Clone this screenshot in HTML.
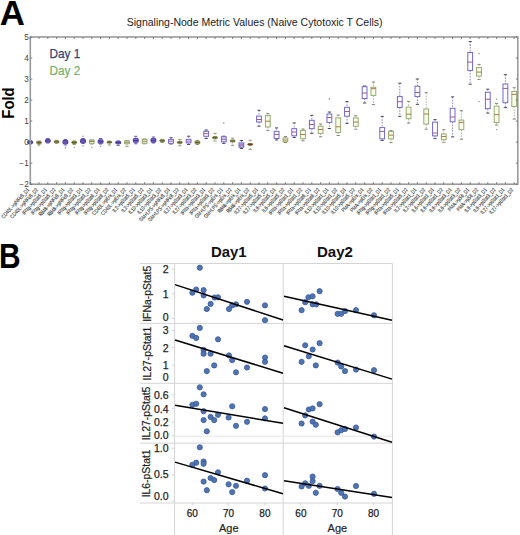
<!DOCTYPE html>
<html><head><meta charset="utf-8"><style>
html,body{margin:0;padding:0;background:#fff;width:520px;height:535px;overflow:hidden;font-family:"Liberation Sans",sans-serif;}
svg{display:block}
</style></head><body>
<svg width="520" height="535" viewBox="0 0 520 535">
<text x="-0.3" y="25" font-family="Liberation Sans" font-weight="bold" font-size="34.8" fill="#000">A</text>
<text x="126.7" y="25.6" font-family="Liberation Sans" font-size="10.6" fill="#222" textLength="255.9" lengthAdjust="spacingAndGlyphs">Signaling-Node Metric Values (Naive Cytotoxic T Cells)</text>
<line x1="30.20" y1="140.50" x2="30.20" y2="141.00" stroke="#8580c0" stroke-width="0.9" stroke-dasharray="1.6,1.2"/>
<line x1="30.20" y1="143.50" x2="30.20" y2="144.00" stroke="#8580c0" stroke-width="0.9" stroke-dasharray="1.6,1.2"/>
<line x1="28.60" y1="140.50" x2="31.80" y2="140.50" stroke="#5a4ca8" stroke-width="0.9"/>
<line x1="28.60" y1="144.00" x2="31.80" y2="144.00" stroke="#5a4ca8" stroke-width="0.9"/>
<rect x="27.80" y="141.00" width="4.80" height="2.50" rx="1" fill="#7c6ecc" stroke="#5444aa" stroke-width="1.1"/>
<line x1="27.80" y1="142.30" x2="32.60" y2="142.30" stroke="#4a3a90" stroke-width="1"/>
<line x1="39.00" y1="141.00" x2="39.00" y2="141.50" stroke="#a8ac96" stroke-width="0.9" stroke-dasharray="1.6,1.2"/>
<line x1="39.00" y1="143.50" x2="39.00" y2="144.50" stroke="#a8ac96" stroke-width="0.9" stroke-dasharray="1.6,1.2"/>
<line x1="37.40" y1="141.00" x2="40.60" y2="141.00" stroke="#8a8c60" stroke-width="0.9"/>
<line x1="37.40" y1="144.50" x2="40.60" y2="144.50" stroke="#8a8c60" stroke-width="0.9"/>
<rect x="36.60" y="141.50" width="4.80" height="2.00" rx="0.8" fill="#b4b47c" stroke="#80824a" stroke-width="1"/>
<line x1="36.60" y1="142.60" x2="41.40" y2="142.60" stroke="#5e5e2a" stroke-width="1.1"/>
<circle cx="39.00" cy="145.70" r="0.8" fill="#a8a898"/>
<line x1="47.80" y1="138.50" x2="47.80" y2="139.50" stroke="#8580c0" stroke-width="0.9" stroke-dasharray="1.6,1.2"/>
<line x1="47.80" y1="142.30" x2="47.80" y2="143.00" stroke="#8580c0" stroke-width="0.9" stroke-dasharray="1.6,1.2"/>
<line x1="46.20" y1="138.50" x2="49.40" y2="138.50" stroke="#5a4ca8" stroke-width="0.9"/>
<line x1="46.20" y1="143.00" x2="49.40" y2="143.00" stroke="#5a4ca8" stroke-width="0.9"/>
<rect x="45.40" y="139.50" width="4.80" height="2.80" rx="1" fill="#7c6ecc" stroke="#5444aa" stroke-width="1.1"/>
<line x1="45.40" y1="141.00" x2="50.20" y2="141.00" stroke="#4a3a90" stroke-width="1"/>
<line x1="56.60" y1="140.30" x2="56.60" y2="140.80" stroke="#a8ac96" stroke-width="0.9" stroke-dasharray="1.6,1.2"/>
<line x1="56.60" y1="142.80" x2="56.60" y2="143.30" stroke="#a8ac96" stroke-width="0.9" stroke-dasharray="1.6,1.2"/>
<line x1="55.00" y1="140.30" x2="58.20" y2="140.30" stroke="#8a8c60" stroke-width="0.9"/>
<line x1="55.00" y1="143.30" x2="58.20" y2="143.30" stroke="#8a8c60" stroke-width="0.9"/>
<rect x="54.20" y="140.80" width="4.80" height="2.00" rx="0.8" fill="#b4b47c" stroke="#80824a" stroke-width="1"/>
<line x1="54.20" y1="141.80" x2="59.00" y2="141.80" stroke="#5e5e2a" stroke-width="1.1"/>
<line x1="65.40" y1="139.50" x2="65.40" y2="140.40" stroke="#8580c0" stroke-width="0.9" stroke-dasharray="1.6,1.2"/>
<line x1="65.40" y1="143.70" x2="65.40" y2="145.00" stroke="#8580c0" stroke-width="0.9" stroke-dasharray="1.6,1.2"/>
<line x1="63.80" y1="139.50" x2="67.00" y2="139.50" stroke="#5a4ca8" stroke-width="0.9"/>
<line x1="63.80" y1="145.00" x2="67.00" y2="145.00" stroke="#5a4ca8" stroke-width="0.9"/>
<rect x="63.00" y="140.40" width="4.80" height="3.30" rx="1" fill="#7c6ecc" stroke="#5444aa" stroke-width="1.1"/>
<line x1="63.00" y1="142.00" x2="67.80" y2="142.00" stroke="#4a3a90" stroke-width="1"/>
<circle cx="65.40" cy="147.60" r="0.8" fill="#9a96b8"/>
<line x1="74.20" y1="141.00" x2="74.20" y2="141.30" stroke="#a8ac96" stroke-width="0.9" stroke-dasharray="1.6,1.2"/>
<line x1="74.20" y1="143.50" x2="74.20" y2="144.50" stroke="#a8ac96" stroke-width="0.9" stroke-dasharray="1.6,1.2"/>
<line x1="72.60" y1="141.00" x2="75.80" y2="141.00" stroke="#8a8c60" stroke-width="0.9"/>
<line x1="72.60" y1="144.50" x2="75.80" y2="144.50" stroke="#8a8c60" stroke-width="0.9"/>
<rect x="71.80" y="141.30" width="4.80" height="2.20" rx="0.8" fill="#b4b47c" stroke="#80824a" stroke-width="1"/>
<line x1="71.80" y1="142.50" x2="76.60" y2="142.50" stroke="#5e5e2a" stroke-width="1.1"/>
<circle cx="74.20" cy="147.60" r="0.8" fill="#a8a898"/>
<line x1="83.00" y1="138.50" x2="83.00" y2="139.40" stroke="#8580c0" stroke-width="0.9" stroke-dasharray="1.6,1.2"/>
<line x1="83.00" y1="142.80" x2="83.00" y2="143.50" stroke="#8580c0" stroke-width="0.9" stroke-dasharray="1.6,1.2"/>
<line x1="81.40" y1="138.50" x2="84.60" y2="138.50" stroke="#5a4ca8" stroke-width="0.9"/>
<line x1="81.40" y1="143.50" x2="84.60" y2="143.50" stroke="#5a4ca8" stroke-width="0.9"/>
<rect x="80.60" y="139.40" width="4.80" height="3.40" rx="1" fill="#7c6ecc" stroke="#5444aa" stroke-width="1.1"/>
<line x1="80.60" y1="141.00" x2="85.40" y2="141.00" stroke="#4a3a90" stroke-width="1"/>
<circle cx="83.00" cy="136.30" r="0.8" fill="#9a96b8"/>
<circle cx="83.00" cy="145.70" r="0.8" fill="#9a96b8"/>
<line x1="91.80" y1="139.80" x2="91.80" y2="140.20" stroke="#a8ac96" stroke-width="0.9" stroke-dasharray="1.6,1.2"/>
<line x1="91.80" y1="143.30" x2="91.80" y2="144.00" stroke="#a8ac96" stroke-width="0.9" stroke-dasharray="1.6,1.2"/>
<line x1="90.20" y1="139.80" x2="93.40" y2="139.80" stroke="#7a7a6a" stroke-width="0.9"/>
<line x1="90.20" y1="144.00" x2="93.40" y2="144.00" stroke="#7a7a6a" stroke-width="0.9"/>
<rect x="89.40" y="140.20" width="4.80" height="3.10" fill="#f9faea" stroke="#8fa86a" stroke-width="0.95"/>
<line x1="89.40" y1="141.50" x2="94.20" y2="141.50" stroke="#a87a50" stroke-width="1"/>
<circle cx="91.80" cy="147.30" r="0.8" fill="#a8a898"/>
<line x1="100.60" y1="138.50" x2="100.60" y2="139.90" stroke="#8580c0" stroke-width="0.9" stroke-dasharray="1.6,1.2"/>
<line x1="100.60" y1="143.30" x2="100.60" y2="144.00" stroke="#8580c0" stroke-width="0.9" stroke-dasharray="1.6,1.2"/>
<line x1="99.00" y1="138.50" x2="102.20" y2="138.50" stroke="#5a4ca8" stroke-width="0.9"/>
<line x1="99.00" y1="144.00" x2="102.20" y2="144.00" stroke="#5a4ca8" stroke-width="0.9"/>
<rect x="98.20" y="139.90" width="4.80" height="3.40" rx="1" fill="#7c6ecc" stroke="#5444aa" stroke-width="1.1"/>
<line x1="98.20" y1="141.60" x2="103.00" y2="141.60" stroke="#4a3a90" stroke-width="1"/>
<circle cx="100.60" cy="146.30" r="0.8" fill="#9a96b8"/>
<line x1="109.40" y1="141.00" x2="109.40" y2="141.50" stroke="#a8ac96" stroke-width="0.9" stroke-dasharray="1.6,1.2"/>
<line x1="109.40" y1="143.00" x2="109.40" y2="145.00" stroke="#a8ac96" stroke-width="0.9" stroke-dasharray="1.6,1.2"/>
<line x1="107.80" y1="141.00" x2="111.00" y2="141.00" stroke="#8a8c60" stroke-width="0.9"/>
<line x1="107.80" y1="145.00" x2="111.00" y2="145.00" stroke="#8a8c60" stroke-width="0.9"/>
<rect x="107.00" y="141.50" width="4.80" height="1.50" rx="0.8" fill="#b4b47c" stroke="#80824a" stroke-width="1"/>
<line x1="107.00" y1="142.30" x2="111.80" y2="142.30" stroke="#5e5e2a" stroke-width="1.1"/>
<line x1="118.20" y1="141.00" x2="118.20" y2="141.30" stroke="#8580c0" stroke-width="0.9" stroke-dasharray="1.6,1.2"/>
<line x1="118.20" y1="143.75" x2="118.20" y2="145.40" stroke="#8580c0" stroke-width="0.9" stroke-dasharray="1.6,1.2"/>
<line x1="116.60" y1="141.00" x2="119.80" y2="141.00" stroke="#5a4ca8" stroke-width="0.9"/>
<line x1="116.60" y1="145.40" x2="119.80" y2="145.40" stroke="#5a4ca8" stroke-width="0.9"/>
<rect x="115.80" y="141.30" width="4.80" height="2.45" rx="1" fill="#7c6ecc" stroke="#5444aa" stroke-width="1.1"/>
<line x1="115.80" y1="142.50" x2="120.60" y2="142.50" stroke="#4a3a90" stroke-width="1"/>
<line x1="127.00" y1="140.50" x2="127.00" y2="140.90" stroke="#a8ac96" stroke-width="0.9" stroke-dasharray="1.6,1.2"/>
<line x1="127.00" y1="143.75" x2="127.00" y2="146.30" stroke="#a8ac96" stroke-width="0.9" stroke-dasharray="1.6,1.2"/>
<line x1="125.40" y1="140.50" x2="128.60" y2="140.50" stroke="#7a7a6a" stroke-width="0.9"/>
<line x1="125.40" y1="146.30" x2="128.60" y2="146.30" stroke="#7a7a6a" stroke-width="0.9"/>
<rect x="124.60" y="140.90" width="4.80" height="2.85" fill="#f9faea" stroke="#8fa86a" stroke-width="0.95"/>
<line x1="124.60" y1="142.30" x2="129.40" y2="142.30" stroke="#a87a50" stroke-width="1"/>
<line x1="135.80" y1="136.30" x2="135.80" y2="138.50" stroke="#8580c0" stroke-width="0.9" stroke-dasharray="1.6,1.2"/>
<line x1="135.80" y1="142.30" x2="135.80" y2="143.75" stroke="#8580c0" stroke-width="0.9" stroke-dasharray="1.6,1.2"/>
<line x1="134.20" y1="136.30" x2="137.40" y2="136.30" stroke="#5a4ca8" stroke-width="0.9"/>
<line x1="134.20" y1="143.75" x2="137.40" y2="143.75" stroke="#5a4ca8" stroke-width="0.9"/>
<rect x="133.40" y="138.50" width="4.80" height="3.80" rx="1" fill="#7c6ecc" stroke="#5444aa" stroke-width="1.1"/>
<line x1="133.40" y1="140.50" x2="138.20" y2="140.50" stroke="#4a3a90" stroke-width="1"/>
<line x1="144.60" y1="139.00" x2="144.60" y2="139.40" stroke="#a8ac96" stroke-width="0.9" stroke-dasharray="1.6,1.2"/>
<line x1="144.60" y1="143.30" x2="144.60" y2="143.80" stroke="#a8ac96" stroke-width="0.9" stroke-dasharray="1.6,1.2"/>
<line x1="143.00" y1="139.00" x2="146.20" y2="139.00" stroke="#7a7a6a" stroke-width="0.9"/>
<line x1="143.00" y1="143.80" x2="146.20" y2="143.80" stroke="#7a7a6a" stroke-width="0.9"/>
<rect x="142.20" y="139.40" width="4.80" height="3.90" fill="#f9faea" stroke="#8fa86a" stroke-width="0.95"/>
<line x1="142.20" y1="141.30" x2="147.00" y2="141.30" stroke="#a87a50" stroke-width="1"/>
<line x1="153.40" y1="137.00" x2="153.40" y2="138.50" stroke="#8580c0" stroke-width="0.9" stroke-dasharray="1.6,1.2"/>
<line x1="153.40" y1="142.10" x2="153.40" y2="143.00" stroke="#8580c0" stroke-width="0.9" stroke-dasharray="1.6,1.2"/>
<line x1="151.80" y1="137.00" x2="155.00" y2="137.00" stroke="#5a4ca8" stroke-width="0.9"/>
<line x1="151.80" y1="143.00" x2="155.00" y2="143.00" stroke="#5a4ca8" stroke-width="0.9"/>
<rect x="151.00" y="138.50" width="4.80" height="3.60" rx="1" fill="#7c6ecc" stroke="#5444aa" stroke-width="1.1"/>
<line x1="151.00" y1="140.30" x2="155.80" y2="140.30" stroke="#4a3a90" stroke-width="1"/>
<line x1="162.20" y1="139.30" x2="162.20" y2="139.80" stroke="#a8ac96" stroke-width="0.9" stroke-dasharray="1.6,1.2"/>
<line x1="162.20" y1="141.60" x2="162.20" y2="142.50" stroke="#a8ac96" stroke-width="0.9" stroke-dasharray="1.6,1.2"/>
<line x1="160.60" y1="139.30" x2="163.80" y2="139.30" stroke="#8a8c60" stroke-width="0.9"/>
<line x1="160.60" y1="142.50" x2="163.80" y2="142.50" stroke="#8a8c60" stroke-width="0.9"/>
<rect x="159.80" y="139.80" width="4.80" height="1.80" rx="0.8" fill="#b4b47c" stroke="#80824a" stroke-width="1"/>
<line x1="159.80" y1="140.70" x2="164.60" y2="140.70" stroke="#5e5e2a" stroke-width="1.1"/>
<line x1="171.00" y1="137.70" x2="171.00" y2="139.40" stroke="#8580c0" stroke-width="0.9" stroke-dasharray="1.6,1.2"/>
<line x1="171.00" y1="143.30" x2="171.00" y2="144.00" stroke="#8580c0" stroke-width="0.9" stroke-dasharray="1.6,1.2"/>
<line x1="169.40" y1="137.70" x2="172.60" y2="137.70" stroke="#3a3a4a" stroke-width="0.9"/>
<line x1="169.40" y1="144.00" x2="172.60" y2="144.00" stroke="#3a3a4a" stroke-width="0.9"/>
<rect x="168.60" y="139.40" width="4.80" height="3.90" fill="#fff" stroke="#6c60cc" stroke-width="0.95"/>
<line x1="168.60" y1="141.20" x2="173.40" y2="141.20" stroke="#9c5a92" stroke-width="1"/>
<line x1="179.80" y1="139.50" x2="179.80" y2="141.50" stroke="#a8ac96" stroke-width="0.9" stroke-dasharray="1.6,1.2"/>
<line x1="179.80" y1="143.40" x2="179.80" y2="145.80" stroke="#a8ac96" stroke-width="0.9" stroke-dasharray="1.6,1.2"/>
<line x1="178.20" y1="139.50" x2="181.40" y2="139.50" stroke="#8a8c60" stroke-width="0.9"/>
<line x1="178.20" y1="145.80" x2="181.40" y2="145.80" stroke="#8a8c60" stroke-width="0.9"/>
<rect x="177.40" y="141.50" width="4.80" height="1.90" rx="0.8" fill="#b4b47c" stroke="#80824a" stroke-width="1"/>
<line x1="177.40" y1="142.40" x2="182.20" y2="142.40" stroke="#5e5e2a" stroke-width="1.1"/>
<line x1="188.60" y1="136.20" x2="188.60" y2="139.30" stroke="#8580c0" stroke-width="0.9" stroke-dasharray="1.6,1.2"/>
<line x1="188.60" y1="142.90" x2="188.60" y2="144.50" stroke="#8580c0" stroke-width="0.9" stroke-dasharray="1.6,1.2"/>
<line x1="187.00" y1="136.20" x2="190.20" y2="136.20" stroke="#3a3a4a" stroke-width="0.9"/>
<line x1="187.00" y1="144.50" x2="190.20" y2="144.50" stroke="#3a3a4a" stroke-width="0.9"/>
<rect x="186.20" y="139.30" width="4.80" height="3.60" fill="#fff" stroke="#6c60cc" stroke-width="0.95"/>
<line x1="186.20" y1="141.10" x2="191.00" y2="141.10" stroke="#9c5a92" stroke-width="1"/>
<line x1="197.40" y1="140.50" x2="197.40" y2="141.00" stroke="#a8ac96" stroke-width="0.9" stroke-dasharray="1.6,1.2"/>
<line x1="197.40" y1="143.80" x2="197.40" y2="144.50" stroke="#a8ac96" stroke-width="0.9" stroke-dasharray="1.6,1.2"/>
<line x1="195.80" y1="140.50" x2="199.00" y2="140.50" stroke="#8a8c60" stroke-width="0.9"/>
<line x1="195.80" y1="144.50" x2="199.00" y2="144.50" stroke="#8a8c60" stroke-width="0.9"/>
<rect x="195.00" y="141.00" width="4.80" height="2.80" rx="0.8" fill="#b4b47c" stroke="#80824a" stroke-width="1"/>
<line x1="195.00" y1="142.50" x2="199.80" y2="142.50" stroke="#5e5e2a" stroke-width="1.1"/>
<line x1="206.20" y1="130.00" x2="206.20" y2="131.30" stroke="#8580c0" stroke-width="0.9" stroke-dasharray="1.6,1.2"/>
<line x1="206.20" y1="136.30" x2="206.20" y2="138.50" stroke="#8580c0" stroke-width="0.9" stroke-dasharray="1.6,1.2"/>
<line x1="204.60" y1="130.00" x2="207.80" y2="130.00" stroke="#3a3a4a" stroke-width="0.9"/>
<line x1="204.60" y1="138.50" x2="207.80" y2="138.50" stroke="#3a3a4a" stroke-width="0.9"/>
<rect x="203.80" y="131.30" width="4.80" height="5.00" fill="#fff" stroke="#6c60cc" stroke-width="0.95"/>
<line x1="203.80" y1="133.70" x2="208.60" y2="133.70" stroke="#9c5a92" stroke-width="1"/>
<line x1="215.00" y1="133.30" x2="215.00" y2="136.60" stroke="#a8ac96" stroke-width="0.9" stroke-dasharray="1.6,1.2"/>
<line x1="215.00" y1="138.60" x2="215.00" y2="141.00" stroke="#a8ac96" stroke-width="0.9" stroke-dasharray="1.6,1.2"/>
<line x1="213.40" y1="133.30" x2="216.60" y2="133.30" stroke="#8a8c60" stroke-width="0.9"/>
<line x1="213.40" y1="141.00" x2="216.60" y2="141.00" stroke="#8a8c60" stroke-width="0.9"/>
<rect x="212.60" y="136.60" width="4.80" height="2.00" rx="0.8" fill="#b4b47c" stroke="#80824a" stroke-width="1"/>
<line x1="212.60" y1="137.60" x2="217.40" y2="137.60" stroke="#5e5e2a" stroke-width="1.1"/>
<line x1="223.80" y1="136.20" x2="223.80" y2="136.70" stroke="#8580c0" stroke-width="0.9" stroke-dasharray="1.6,1.2"/>
<line x1="223.80" y1="141.90" x2="223.80" y2="143.40" stroke="#8580c0" stroke-width="0.9" stroke-dasharray="1.6,1.2"/>
<line x1="222.20" y1="136.20" x2="225.40" y2="136.20" stroke="#3a3a4a" stroke-width="0.9"/>
<line x1="222.20" y1="143.40" x2="225.40" y2="143.40" stroke="#3a3a4a" stroke-width="0.9"/>
<rect x="221.40" y="136.70" width="4.80" height="5.20" fill="#e6e0fa" stroke="#6c60cc" stroke-width="0.95"/>
<line x1="221.40" y1="139.20" x2="226.20" y2="139.20" stroke="#9c5a92" stroke-width="1"/>
<circle cx="223.80" cy="122.90" r="0.8" fill="#9a96b8"/>
<line x1="232.60" y1="138.10" x2="232.60" y2="140.00" stroke="#a8ac96" stroke-width="0.9" stroke-dasharray="1.6,1.2"/>
<line x1="232.60" y1="141.90" x2="232.60" y2="145.30" stroke="#a8ac96" stroke-width="0.9" stroke-dasharray="1.6,1.2"/>
<line x1="231.00" y1="138.10" x2="234.20" y2="138.10" stroke="#8a8c60" stroke-width="0.9"/>
<line x1="231.00" y1="145.30" x2="234.20" y2="145.30" stroke="#8a8c60" stroke-width="0.9"/>
<rect x="230.20" y="140.00" width="4.80" height="1.90" rx="0.8" fill="#b4b47c" stroke="#80824a" stroke-width="1"/>
<line x1="230.20" y1="141.00" x2="235.00" y2="141.00" stroke="#5e5e2a" stroke-width="1.1"/>
<line x1="241.40" y1="140.50" x2="241.40" y2="142.90" stroke="#8580c0" stroke-width="0.9" stroke-dasharray="1.6,1.2"/>
<line x1="241.40" y1="147.20" x2="241.40" y2="148.50" stroke="#8580c0" stroke-width="0.9" stroke-dasharray="1.6,1.2"/>
<line x1="239.80" y1="140.50" x2="243.00" y2="140.50" stroke="#3a3a4a" stroke-width="0.9"/>
<line x1="239.80" y1="148.50" x2="243.00" y2="148.50" stroke="#3a3a4a" stroke-width="0.9"/>
<rect x="239.00" y="142.90" width="4.80" height="4.30" fill="#c0b4ec" stroke="#6c60cc" stroke-width="0.95"/>
<line x1="239.00" y1="145.00" x2="243.80" y2="145.00" stroke="#9c5a92" stroke-width="1"/>
<line x1="250.20" y1="140.20" x2="250.20" y2="143.70" stroke="#a8ac96" stroke-width="0.9" stroke-dasharray="1.6,1.2"/>
<line x1="250.20" y1="145.00" x2="250.20" y2="149.40" stroke="#a8ac96" stroke-width="0.9" stroke-dasharray="1.6,1.2"/>
<line x1="248.60" y1="140.20" x2="251.80" y2="140.20" stroke="#8a8c60" stroke-width="0.9"/>
<line x1="248.60" y1="149.40" x2="251.80" y2="149.40" stroke="#8a8c60" stroke-width="0.9"/>
<rect x="247.80" y="143.70" width="4.80" height="1.50" rx="0.8" fill="#b4b47c" stroke="#80824a" stroke-width="1"/>
<line x1="247.80" y1="144.30" x2="252.60" y2="144.30" stroke="#7a3a20" stroke-width="1.6"/>
<line x1="259.00" y1="110.30" x2="259.00" y2="116.10" stroke="#8580c0" stroke-width="0.9" stroke-dasharray="1.6,1.2"/>
<line x1="259.00" y1="122.00" x2="259.00" y2="126.20" stroke="#8580c0" stroke-width="0.9" stroke-dasharray="1.6,1.2"/>
<line x1="257.40" y1="110.30" x2="260.60" y2="110.30" stroke="#3a3a4a" stroke-width="0.9"/>
<line x1="257.40" y1="126.20" x2="260.60" y2="126.20" stroke="#3a3a4a" stroke-width="0.9"/>
<rect x="256.60" y="116.10" width="4.80" height="5.90" fill="#fff" stroke="#6c60cc" stroke-width="0.95"/>
<line x1="256.60" y1="119.50" x2="261.40" y2="119.50" stroke="#9c5a92" stroke-width="1"/>
<line x1="267.80" y1="113.50" x2="267.80" y2="115.60" stroke="#a8ac96" stroke-width="0.9" stroke-dasharray="1.6,1.2"/>
<line x1="267.80" y1="127.00" x2="267.80" y2="130.40" stroke="#a8ac96" stroke-width="0.9" stroke-dasharray="1.6,1.2"/>
<line x1="266.20" y1="113.50" x2="269.40" y2="113.50" stroke="#7a7a6a" stroke-width="0.9"/>
<line x1="266.20" y1="130.40" x2="269.40" y2="130.40" stroke="#7a7a6a" stroke-width="0.9"/>
<rect x="265.40" y="115.60" width="4.80" height="11.40" fill="#f9faea" stroke="#8fa86a" stroke-width="0.95"/>
<line x1="265.40" y1="121.20" x2="270.20" y2="121.20" stroke="#a87a50" stroke-width="1"/>
<line x1="276.60" y1="127.90" x2="276.60" y2="131.30" stroke="#8580c0" stroke-width="0.9" stroke-dasharray="1.6,1.2"/>
<line x1="276.60" y1="138.50" x2="276.60" y2="140.00" stroke="#8580c0" stroke-width="0.9" stroke-dasharray="1.6,1.2"/>
<line x1="275.00" y1="127.90" x2="278.20" y2="127.90" stroke="#3a3a4a" stroke-width="0.9"/>
<line x1="275.00" y1="140.00" x2="278.20" y2="140.00" stroke="#3a3a4a" stroke-width="0.9"/>
<rect x="274.20" y="131.30" width="4.80" height="7.20" fill="#fff" stroke="#6c60cc" stroke-width="0.95"/>
<line x1="274.20" y1="134.50" x2="279.00" y2="134.50" stroke="#9c5a92" stroke-width="1"/>
<line x1="285.40" y1="136.50" x2="285.40" y2="138.00" stroke="#a8ac96" stroke-width="0.9" stroke-dasharray="1.6,1.2"/>
<line x1="285.40" y1="141.80" x2="285.40" y2="142.50" stroke="#a8ac96" stroke-width="0.9" stroke-dasharray="1.6,1.2"/>
<line x1="283.80" y1="136.50" x2="287.00" y2="136.50" stroke="#7a7a6a" stroke-width="0.9"/>
<line x1="283.80" y1="142.50" x2="287.00" y2="142.50" stroke="#7a7a6a" stroke-width="0.9"/>
<rect x="283.00" y="138.00" width="4.80" height="3.80" fill="#f9faea" stroke="#8fa86a" stroke-width="0.95"/>
<line x1="283.00" y1="140.00" x2="287.80" y2="140.00" stroke="#a87a50" stroke-width="1"/>
<line x1="294.20" y1="122.90" x2="294.20" y2="128.70" stroke="#8580c0" stroke-width="0.9" stroke-dasharray="1.6,1.2"/>
<line x1="294.20" y1="135.80" x2="294.20" y2="137.50" stroke="#8580c0" stroke-width="0.9" stroke-dasharray="1.6,1.2"/>
<line x1="292.60" y1="122.90" x2="295.80" y2="122.90" stroke="#3a3a4a" stroke-width="0.9"/>
<line x1="292.60" y1="137.50" x2="295.80" y2="137.50" stroke="#3a3a4a" stroke-width="0.9"/>
<rect x="291.80" y="128.70" width="4.80" height="7.10" fill="#fff" stroke="#6c60cc" stroke-width="0.95"/>
<line x1="291.80" y1="132.00" x2="296.60" y2="132.00" stroke="#9c5a92" stroke-width="1"/>
<line x1="303.00" y1="129.00" x2="303.00" y2="130.40" stroke="#a8ac96" stroke-width="0.9" stroke-dasharray="1.6,1.2"/>
<line x1="303.00" y1="138.80" x2="303.00" y2="140.80" stroke="#a8ac96" stroke-width="0.9" stroke-dasharray="1.6,1.2"/>
<line x1="301.40" y1="129.00" x2="304.60" y2="129.00" stroke="#7a7a6a" stroke-width="0.9"/>
<line x1="301.40" y1="140.80" x2="304.60" y2="140.80" stroke="#7a7a6a" stroke-width="0.9"/>
<rect x="300.60" y="130.40" width="4.80" height="8.40" fill="#f9faea" stroke="#8fa86a" stroke-width="0.95"/>
<line x1="300.60" y1="134.50" x2="305.40" y2="134.50" stroke="#a87a50" stroke-width="1"/>
<line x1="311.80" y1="115.30" x2="311.80" y2="120.30" stroke="#8580c0" stroke-width="0.9" stroke-dasharray="1.6,1.2"/>
<line x1="311.80" y1="128.70" x2="311.80" y2="133.40" stroke="#8580c0" stroke-width="0.9" stroke-dasharray="1.6,1.2"/>
<line x1="310.20" y1="115.30" x2="313.40" y2="115.30" stroke="#3a3a4a" stroke-width="0.9"/>
<line x1="310.20" y1="133.40" x2="313.40" y2="133.40" stroke="#3a3a4a" stroke-width="0.9"/>
<rect x="309.40" y="120.30" width="4.80" height="8.40" fill="#fff" stroke="#6c60cc" stroke-width="0.95"/>
<line x1="309.40" y1="124.50" x2="314.20" y2="124.50" stroke="#9c5a92" stroke-width="1"/>
<line x1="320.60" y1="124.00" x2="320.60" y2="126.20" stroke="#a8ac96" stroke-width="0.9" stroke-dasharray="1.6,1.2"/>
<line x1="320.60" y1="133.40" x2="320.60" y2="136.80" stroke="#a8ac96" stroke-width="0.9" stroke-dasharray="1.6,1.2"/>
<line x1="319.00" y1="124.00" x2="322.20" y2="124.00" stroke="#7a7a6a" stroke-width="0.9"/>
<line x1="319.00" y1="136.80" x2="322.20" y2="136.80" stroke="#7a7a6a" stroke-width="0.9"/>
<rect x="318.20" y="126.20" width="4.80" height="7.20" fill="#f9faea" stroke="#8fa86a" stroke-width="0.95"/>
<line x1="318.20" y1="129.50" x2="323.00" y2="129.50" stroke="#a87a50" stroke-width="1"/>
<line x1="329.40" y1="112.00" x2="329.40" y2="114.00" stroke="#8580c0" stroke-width="0.9" stroke-dasharray="1.6,1.2"/>
<line x1="329.40" y1="122.40" x2="329.40" y2="128.50" stroke="#8580c0" stroke-width="0.9" stroke-dasharray="1.6,1.2"/>
<line x1="327.80" y1="112.00" x2="331.00" y2="112.00" stroke="#3a3a4a" stroke-width="0.9"/>
<line x1="327.80" y1="128.50" x2="331.00" y2="128.50" stroke="#3a3a4a" stroke-width="0.9"/>
<rect x="327.00" y="114.00" width="4.80" height="8.40" fill="#fff" stroke="#6c60cc" stroke-width="0.95"/>
<line x1="327.00" y1="117.50" x2="331.80" y2="117.50" stroke="#9c5a92" stroke-width="1"/>
<circle cx="329.40" cy="98.90" r="0.8" fill="#9a96b8"/>
<line x1="338.20" y1="115.00" x2="338.20" y2="117.90" stroke="#a8ac96" stroke-width="0.9" stroke-dasharray="1.6,1.2"/>
<line x1="338.20" y1="132.50" x2="338.20" y2="135.50" stroke="#a8ac96" stroke-width="0.9" stroke-dasharray="1.6,1.2"/>
<line x1="336.60" y1="115.00" x2="339.80" y2="115.00" stroke="#7a7a6a" stroke-width="0.9"/>
<line x1="336.60" y1="135.50" x2="339.80" y2="135.50" stroke="#7a7a6a" stroke-width="0.9"/>
<rect x="335.80" y="117.90" width="4.80" height="14.60" fill="#f9faea" stroke="#8fa86a" stroke-width="0.95"/>
<line x1="335.80" y1="126.80" x2="340.60" y2="126.80" stroke="#a87a50" stroke-width="1"/>
<line x1="347.00" y1="101.60" x2="347.00" y2="107.30" stroke="#8580c0" stroke-width="0.9" stroke-dasharray="1.6,1.2"/>
<line x1="347.00" y1="116.20" x2="347.00" y2="123.40" stroke="#8580c0" stroke-width="0.9" stroke-dasharray="1.6,1.2"/>
<line x1="345.40" y1="101.60" x2="348.60" y2="101.60" stroke="#3a3a4a" stroke-width="0.9"/>
<line x1="345.40" y1="123.40" x2="348.60" y2="123.40" stroke="#3a3a4a" stroke-width="0.9"/>
<rect x="344.60" y="107.30" width="4.80" height="8.90" fill="#fff" stroke="#6c60cc" stroke-width="0.95"/>
<line x1="344.60" y1="111.50" x2="349.40" y2="111.50" stroke="#9c5a92" stroke-width="1"/>
<line x1="355.80" y1="115.70" x2="355.80" y2="117.90" stroke="#a8ac96" stroke-width="0.9" stroke-dasharray="1.6,1.2"/>
<line x1="355.80" y1="126.30" x2="355.80" y2="129.20" stroke="#a8ac96" stroke-width="0.9" stroke-dasharray="1.6,1.2"/>
<line x1="354.20" y1="115.70" x2="357.40" y2="115.70" stroke="#7a7a6a" stroke-width="0.9"/>
<line x1="354.20" y1="129.20" x2="357.40" y2="129.20" stroke="#7a7a6a" stroke-width="0.9"/>
<rect x="353.40" y="117.90" width="4.80" height="8.40" fill="#f9faea" stroke="#8fa86a" stroke-width="0.95"/>
<line x1="353.40" y1="122.00" x2="358.20" y2="122.00" stroke="#a87a50" stroke-width="1"/>
<line x1="364.60" y1="86.00" x2="364.60" y2="86.70" stroke="#8580c0" stroke-width="0.9" stroke-dasharray="1.6,1.2"/>
<line x1="364.60" y1="98.50" x2="364.60" y2="103.00" stroke="#8580c0" stroke-width="0.9" stroke-dasharray="1.6,1.2"/>
<line x1="363.00" y1="86.00" x2="366.20" y2="86.00" stroke="#3a3a4a" stroke-width="0.9"/>
<line x1="363.00" y1="103.00" x2="366.20" y2="103.00" stroke="#3a3a4a" stroke-width="0.9"/>
<rect x="362.20" y="86.70" width="4.80" height="11.80" fill="#fff" stroke="#6c60cc" stroke-width="0.95"/>
<line x1="362.20" y1="93.00" x2="367.00" y2="93.00" stroke="#9c5a92" stroke-width="1"/>
<line x1="373.40" y1="82.00" x2="373.40" y2="87.30" stroke="#a8ac96" stroke-width="0.9" stroke-dasharray="1.6,1.2"/>
<line x1="373.40" y1="95.40" x2="373.40" y2="104.60" stroke="#a8ac96" stroke-width="0.9" stroke-dasharray="1.6,1.2"/>
<line x1="371.80" y1="82.00" x2="375.00" y2="82.00" stroke="#7a7a6a" stroke-width="0.9"/>
<line x1="371.80" y1="104.60" x2="375.00" y2="104.60" stroke="#7a7a6a" stroke-width="0.9"/>
<rect x="371.00" y="87.30" width="4.80" height="8.10" fill="#f9faea" stroke="#8fa86a" stroke-width="0.95"/>
<line x1="371.00" y1="88.70" x2="375.80" y2="88.70" stroke="#a87a50" stroke-width="1"/>
<line x1="382.20" y1="116.40" x2="382.20" y2="127.60" stroke="#8580c0" stroke-width="0.9" stroke-dasharray="1.6,1.2"/>
<line x1="382.20" y1="138.90" x2="382.20" y2="140.40" stroke="#8580c0" stroke-width="0.9" stroke-dasharray="1.6,1.2"/>
<line x1="380.60" y1="116.40" x2="383.80" y2="116.40" stroke="#3a3a4a" stroke-width="0.9"/>
<line x1="380.60" y1="140.40" x2="383.80" y2="140.40" stroke="#3a3a4a" stroke-width="0.9"/>
<rect x="379.80" y="127.60" width="4.80" height="11.30" fill="#fff" stroke="#6c60cc" stroke-width="0.95"/>
<line x1="379.80" y1="131.40" x2="384.60" y2="131.40" stroke="#9c5a92" stroke-width="1"/>
<line x1="391.00" y1="130.60" x2="391.00" y2="131.40" stroke="#a8ac96" stroke-width="0.9" stroke-dasharray="1.6,1.2"/>
<line x1="391.00" y1="138.90" x2="391.00" y2="142.60" stroke="#a8ac96" stroke-width="0.9" stroke-dasharray="1.6,1.2"/>
<line x1="389.40" y1="130.60" x2="392.60" y2="130.60" stroke="#7a7a6a" stroke-width="0.9"/>
<line x1="389.40" y1="142.60" x2="392.60" y2="142.60" stroke="#7a7a6a" stroke-width="0.9"/>
<rect x="388.60" y="131.40" width="4.80" height="7.50" fill="#f9faea" stroke="#8fa86a" stroke-width="0.95"/>
<line x1="388.60" y1="135.10" x2="393.40" y2="135.10" stroke="#a87a50" stroke-width="1"/>
<line x1="399.80" y1="83.20" x2="399.80" y2="96.60" stroke="#8580c0" stroke-width="0.9" stroke-dasharray="1.6,1.2"/>
<line x1="399.80" y1="107.40" x2="399.80" y2="116.40" stroke="#8580c0" stroke-width="0.9" stroke-dasharray="1.6,1.2"/>
<line x1="398.20" y1="83.20" x2="401.40" y2="83.20" stroke="#3a3a4a" stroke-width="0.9"/>
<line x1="398.20" y1="116.40" x2="401.40" y2="116.40" stroke="#3a3a4a" stroke-width="0.9"/>
<rect x="397.40" y="96.60" width="4.80" height="10.80" fill="#fff" stroke="#6c60cc" stroke-width="0.95"/>
<line x1="397.40" y1="101.70" x2="402.20" y2="101.70" stroke="#9c5a92" stroke-width="1"/>
<line x1="408.60" y1="101.40" x2="408.60" y2="107.10" stroke="#a8ac96" stroke-width="0.9" stroke-dasharray="1.6,1.2"/>
<line x1="408.60" y1="118.70" x2="408.60" y2="123.10" stroke="#a8ac96" stroke-width="0.9" stroke-dasharray="1.6,1.2"/>
<line x1="407.00" y1="101.40" x2="410.20" y2="101.40" stroke="#7a7a6a" stroke-width="0.9"/>
<line x1="407.00" y1="123.10" x2="410.20" y2="123.10" stroke="#7a7a6a" stroke-width="0.9"/>
<rect x="406.20" y="107.10" width="4.80" height="11.60" fill="#f9faea" stroke="#8fa86a" stroke-width="0.95"/>
<line x1="406.20" y1="114.20" x2="411.00" y2="114.20" stroke="#a87a50" stroke-width="1"/>
<line x1="417.40" y1="79.00" x2="417.40" y2="86.20" stroke="#8580c0" stroke-width="0.9" stroke-dasharray="1.6,1.2"/>
<line x1="417.40" y1="96.60" x2="417.40" y2="104.40" stroke="#8580c0" stroke-width="0.9" stroke-dasharray="1.6,1.2"/>
<line x1="415.80" y1="79.00" x2="419.00" y2="79.00" stroke="#3a3a4a" stroke-width="0.9"/>
<line x1="415.80" y1="104.40" x2="419.00" y2="104.40" stroke="#3a3a4a" stroke-width="0.9"/>
<rect x="415.00" y="86.20" width="4.80" height="10.40" fill="#fff" stroke="#6c60cc" stroke-width="0.95"/>
<line x1="415.00" y1="92.50" x2="419.80" y2="92.50" stroke="#9c5a92" stroke-width="1"/>
<line x1="426.20" y1="92.70" x2="426.20" y2="109.00" stroke="#a8ac96" stroke-width="0.9" stroke-dasharray="1.6,1.2"/>
<line x1="426.20" y1="124.10" x2="426.20" y2="129.20" stroke="#a8ac96" stroke-width="0.9" stroke-dasharray="1.6,1.2"/>
<line x1="424.60" y1="92.70" x2="427.80" y2="92.70" stroke="#7a7a6a" stroke-width="0.9"/>
<line x1="424.60" y1="129.20" x2="427.80" y2="129.20" stroke="#7a7a6a" stroke-width="0.9"/>
<rect x="423.80" y="109.00" width="4.80" height="15.10" fill="#f9faea" stroke="#8fa86a" stroke-width="0.95"/>
<line x1="423.80" y1="114.00" x2="428.60" y2="114.00" stroke="#a87a50" stroke-width="1"/>
<line x1="435.00" y1="119.60" x2="435.00" y2="122.10" stroke="#8580c0" stroke-width="0.9" stroke-dasharray="1.6,1.2"/>
<line x1="435.00" y1="135.90" x2="435.00" y2="138.60" stroke="#8580c0" stroke-width="0.9" stroke-dasharray="1.6,1.2"/>
<line x1="433.40" y1="119.60" x2="436.60" y2="119.60" stroke="#3a3a4a" stroke-width="0.9"/>
<line x1="433.40" y1="138.60" x2="436.60" y2="138.60" stroke="#3a3a4a" stroke-width="0.9"/>
<rect x="432.60" y="122.10" width="4.80" height="13.80" fill="#fff" stroke="#6c60cc" stroke-width="0.95"/>
<line x1="432.60" y1="133.00" x2="437.40" y2="133.00" stroke="#9c5a92" stroke-width="1"/>
<line x1="443.80" y1="129.70" x2="443.80" y2="133.90" stroke="#a8ac96" stroke-width="0.9" stroke-dasharray="1.6,1.2"/>
<line x1="443.80" y1="139.70" x2="443.80" y2="142.30" stroke="#a8ac96" stroke-width="0.9" stroke-dasharray="1.6,1.2"/>
<line x1="442.20" y1="129.70" x2="445.40" y2="129.70" stroke="#7a7a6a" stroke-width="0.9"/>
<line x1="442.20" y1="142.30" x2="445.40" y2="142.30" stroke="#7a7a6a" stroke-width="0.9"/>
<rect x="441.40" y="133.90" width="4.80" height="5.80" fill="#f9faea" stroke="#8fa86a" stroke-width="0.95"/>
<line x1="441.40" y1="136.50" x2="446.20" y2="136.50" stroke="#a87a50" stroke-width="1"/>
<line x1="452.60" y1="96.90" x2="452.60" y2="108.30" stroke="#8580c0" stroke-width="0.9" stroke-dasharray="1.6,1.2"/>
<line x1="452.60" y1="121.80" x2="452.60" y2="136.90" stroke="#8580c0" stroke-width="0.9" stroke-dasharray="1.6,1.2"/>
<line x1="451.00" y1="96.90" x2="454.20" y2="96.90" stroke="#3a3a4a" stroke-width="0.9"/>
<line x1="451.00" y1="136.90" x2="454.20" y2="136.90" stroke="#3a3a4a" stroke-width="0.9"/>
<rect x="450.20" y="108.30" width="4.80" height="13.50" fill="#fff" stroke="#6c60cc" stroke-width="0.95"/>
<line x1="450.20" y1="117.00" x2="455.00" y2="117.00" stroke="#9c5a92" stroke-width="1"/>
<line x1="461.40" y1="110.70" x2="461.40" y2="120.10" stroke="#a8ac96" stroke-width="0.9" stroke-dasharray="1.6,1.2"/>
<line x1="461.40" y1="129.70" x2="461.40" y2="139.20" stroke="#a8ac96" stroke-width="0.9" stroke-dasharray="1.6,1.2"/>
<line x1="459.80" y1="110.70" x2="463.00" y2="110.70" stroke="#7a7a6a" stroke-width="0.9"/>
<line x1="459.80" y1="139.20" x2="463.00" y2="139.20" stroke="#7a7a6a" stroke-width="0.9"/>
<rect x="459.00" y="120.10" width="4.80" height="9.60" fill="#f9faea" stroke="#8fa86a" stroke-width="0.95"/>
<line x1="459.00" y1="122.40" x2="463.80" y2="122.40" stroke="#a87a50" stroke-width="1"/>
<line x1="470.20" y1="41.50" x2="470.20" y2="52.50" stroke="#8580c0" stroke-width="0.9" stroke-dasharray="1.6,1.2"/>
<line x1="470.20" y1="70.40" x2="470.20" y2="84.20" stroke="#8580c0" stroke-width="0.9" stroke-dasharray="1.6,1.2"/>
<line x1="468.60" y1="41.50" x2="471.80" y2="41.50" stroke="#3a3a4a" stroke-width="0.9"/>
<line x1="468.60" y1="84.20" x2="471.80" y2="84.20" stroke="#3a3a4a" stroke-width="0.9"/>
<rect x="467.80" y="52.50" width="4.80" height="17.90" fill="#fff" stroke="#6c60cc" stroke-width="0.95"/>
<line x1="467.80" y1="62.10" x2="472.60" y2="62.10" stroke="#9c5a92" stroke-width="1"/>
<circle cx="470.20" cy="45.00" r="0.8" fill="#9a96b8"/>
<line x1="479.00" y1="64.40" x2="479.00" y2="67.50" stroke="#a8ac96" stroke-width="0.9" stroke-dasharray="1.6,1.2"/>
<line x1="479.00" y1="76.10" x2="479.00" y2="79.40" stroke="#a8ac96" stroke-width="0.9" stroke-dasharray="1.6,1.2"/>
<line x1="477.40" y1="64.40" x2="480.60" y2="64.40" stroke="#7a7a6a" stroke-width="0.9"/>
<line x1="477.40" y1="79.40" x2="480.60" y2="79.40" stroke="#7a7a6a" stroke-width="0.9"/>
<rect x="476.60" y="67.50" width="4.80" height="8.60" fill="#f9faea" stroke="#8fa86a" stroke-width="0.95"/>
<line x1="476.60" y1="72.10" x2="481.40" y2="72.10" stroke="#a87a50" stroke-width="1"/>
<circle cx="479.00" cy="53.60" r="0.8" fill="#a8a898"/>
<circle cx="479.00" cy="101.60" r="0.8" fill="#a8a898"/>
<line x1="487.80" y1="89.20" x2="487.80" y2="92.20" stroke="#8580c0" stroke-width="0.9" stroke-dasharray="1.6,1.2"/>
<line x1="487.80" y1="108.70" x2="487.80" y2="113.10" stroke="#8580c0" stroke-width="0.9" stroke-dasharray="1.6,1.2"/>
<line x1="486.20" y1="89.20" x2="489.40" y2="89.20" stroke="#3a3a4a" stroke-width="0.9"/>
<line x1="486.20" y1="113.10" x2="489.40" y2="113.10" stroke="#3a3a4a" stroke-width="0.9"/>
<rect x="485.40" y="92.20" width="4.80" height="16.50" fill="#fff" stroke="#6c60cc" stroke-width="0.95"/>
<line x1="485.40" y1="99.20" x2="490.20" y2="99.20" stroke="#9c5a92" stroke-width="1"/>
<line x1="496.60" y1="103.40" x2="496.60" y2="106.10" stroke="#a8ac96" stroke-width="0.9" stroke-dasharray="1.6,1.2"/>
<line x1="496.60" y1="122.60" x2="496.60" y2="125.10" stroke="#a8ac96" stroke-width="0.9" stroke-dasharray="1.6,1.2"/>
<line x1="495.00" y1="103.40" x2="498.20" y2="103.40" stroke="#7a7a6a" stroke-width="0.9"/>
<line x1="495.00" y1="125.10" x2="498.20" y2="125.10" stroke="#7a7a6a" stroke-width="0.9"/>
<rect x="494.20" y="106.10" width="4.80" height="16.50" fill="#f9faea" stroke="#8fa86a" stroke-width="0.95"/>
<line x1="494.20" y1="114.60" x2="499.00" y2="114.60" stroke="#a87a50" stroke-width="1"/>
<circle cx="496.60" cy="99.20" r="0.8" fill="#a8a898"/>
<circle cx="496.60" cy="129.60" r="0.8" fill="#a8a898"/>
<line x1="505.40" y1="74.70" x2="505.40" y2="84.00" stroke="#8580c0" stroke-width="0.9" stroke-dasharray="1.6,1.2"/>
<line x1="505.40" y1="102.70" x2="505.40" y2="107.60" stroke="#8580c0" stroke-width="0.9" stroke-dasharray="1.6,1.2"/>
<line x1="503.80" y1="74.70" x2="507.00" y2="74.70" stroke="#3a3a4a" stroke-width="0.9"/>
<line x1="503.80" y1="107.60" x2="507.00" y2="107.60" stroke="#3a3a4a" stroke-width="0.9"/>
<rect x="503.00" y="84.00" width="4.80" height="18.70" fill="#fff" stroke="#6c60cc" stroke-width="0.95"/>
<line x1="503.00" y1="88.40" x2="507.80" y2="88.40" stroke="#9c5a92" stroke-width="1"/>
<line x1="514.20" y1="87.70" x2="514.20" y2="91.40" stroke="#a8ac96" stroke-width="0.9" stroke-dasharray="1.6,1.2"/>
<line x1="514.20" y1="106.40" x2="514.20" y2="119.10" stroke="#a8ac96" stroke-width="0.9" stroke-dasharray="1.6,1.2"/>
<line x1="512.60" y1="87.70" x2="515.80" y2="87.70" stroke="#7a7a6a" stroke-width="0.9"/>
<line x1="512.60" y1="119.10" x2="515.80" y2="119.10" stroke="#7a7a6a" stroke-width="0.9"/>
<rect x="511.80" y="91.40" width="4.80" height="15.00" fill="#f9faea" stroke="#8fa86a" stroke-width="0.95"/>
<line x1="511.80" y1="94.40" x2="516.60" y2="94.40" stroke="#a87a50" stroke-width="1"/>
<rect x="30.3" y="37.0" width="487.49999999999994" height="147.2" fill="none" stroke="#9a9a9a" stroke-width="1.6"/>
<line x1="30.20" y1="37.0" x2="30.20" y2="39.0" stroke="#666" stroke-width="0.8"/>
<line x1="30.20" y1="184.2" x2="30.20" y2="182.2" stroke="#666" stroke-width="0.8"/>
<line x1="39.00" y1="37.0" x2="39.00" y2="39.0" stroke="#666" stroke-width="0.8"/>
<line x1="39.00" y1="184.2" x2="39.00" y2="182.2" stroke="#666" stroke-width="0.8"/>
<line x1="47.80" y1="37.0" x2="47.80" y2="39.0" stroke="#666" stroke-width="0.8"/>
<line x1="47.80" y1="184.2" x2="47.80" y2="182.2" stroke="#666" stroke-width="0.8"/>
<line x1="56.60" y1="37.0" x2="56.60" y2="39.0" stroke="#666" stroke-width="0.8"/>
<line x1="56.60" y1="184.2" x2="56.60" y2="182.2" stroke="#666" stroke-width="0.8"/>
<line x1="65.40" y1="37.0" x2="65.40" y2="39.0" stroke="#666" stroke-width="0.8"/>
<line x1="65.40" y1="184.2" x2="65.40" y2="182.2" stroke="#666" stroke-width="0.8"/>
<line x1="74.20" y1="37.0" x2="74.20" y2="39.0" stroke="#666" stroke-width="0.8"/>
<line x1="74.20" y1="184.2" x2="74.20" y2="182.2" stroke="#666" stroke-width="0.8"/>
<line x1="83.00" y1="37.0" x2="83.00" y2="39.0" stroke="#666" stroke-width="0.8"/>
<line x1="83.00" y1="184.2" x2="83.00" y2="182.2" stroke="#666" stroke-width="0.8"/>
<line x1="91.80" y1="37.0" x2="91.80" y2="39.0" stroke="#666" stroke-width="0.8"/>
<line x1="91.80" y1="184.2" x2="91.80" y2="182.2" stroke="#666" stroke-width="0.8"/>
<line x1="100.60" y1="37.0" x2="100.60" y2="39.0" stroke="#666" stroke-width="0.8"/>
<line x1="100.60" y1="184.2" x2="100.60" y2="182.2" stroke="#666" stroke-width="0.8"/>
<line x1="109.40" y1="37.0" x2="109.40" y2="39.0" stroke="#666" stroke-width="0.8"/>
<line x1="109.40" y1="184.2" x2="109.40" y2="182.2" stroke="#666" stroke-width="0.8"/>
<line x1="118.20" y1="37.0" x2="118.20" y2="39.0" stroke="#666" stroke-width="0.8"/>
<line x1="118.20" y1="184.2" x2="118.20" y2="182.2" stroke="#666" stroke-width="0.8"/>
<line x1="127.00" y1="37.0" x2="127.00" y2="39.0" stroke="#666" stroke-width="0.8"/>
<line x1="127.00" y1="184.2" x2="127.00" y2="182.2" stroke="#666" stroke-width="0.8"/>
<line x1="135.80" y1="37.0" x2="135.80" y2="39.0" stroke="#666" stroke-width="0.8"/>
<line x1="135.80" y1="184.2" x2="135.80" y2="182.2" stroke="#666" stroke-width="0.8"/>
<line x1="144.60" y1="37.0" x2="144.60" y2="39.0" stroke="#666" stroke-width="0.8"/>
<line x1="144.60" y1="184.2" x2="144.60" y2="182.2" stroke="#666" stroke-width="0.8"/>
<line x1="153.40" y1="37.0" x2="153.40" y2="39.0" stroke="#666" stroke-width="0.8"/>
<line x1="153.40" y1="184.2" x2="153.40" y2="182.2" stroke="#666" stroke-width="0.8"/>
<line x1="162.20" y1="37.0" x2="162.20" y2="39.0" stroke="#666" stroke-width="0.8"/>
<line x1="162.20" y1="184.2" x2="162.20" y2="182.2" stroke="#666" stroke-width="0.8"/>
<line x1="171.00" y1="37.0" x2="171.00" y2="39.0" stroke="#666" stroke-width="0.8"/>
<line x1="171.00" y1="184.2" x2="171.00" y2="182.2" stroke="#666" stroke-width="0.8"/>
<line x1="179.80" y1="37.0" x2="179.80" y2="39.0" stroke="#666" stroke-width="0.8"/>
<line x1="179.80" y1="184.2" x2="179.80" y2="182.2" stroke="#666" stroke-width="0.8"/>
<line x1="188.60" y1="37.0" x2="188.60" y2="39.0" stroke="#666" stroke-width="0.8"/>
<line x1="188.60" y1="184.2" x2="188.60" y2="182.2" stroke="#666" stroke-width="0.8"/>
<line x1="197.40" y1="37.0" x2="197.40" y2="39.0" stroke="#666" stroke-width="0.8"/>
<line x1="197.40" y1="184.2" x2="197.40" y2="182.2" stroke="#666" stroke-width="0.8"/>
<line x1="206.20" y1="37.0" x2="206.20" y2="39.0" stroke="#666" stroke-width="0.8"/>
<line x1="206.20" y1="184.2" x2="206.20" y2="182.2" stroke="#666" stroke-width="0.8"/>
<line x1="215.00" y1="37.0" x2="215.00" y2="39.0" stroke="#666" stroke-width="0.8"/>
<line x1="215.00" y1="184.2" x2="215.00" y2="182.2" stroke="#666" stroke-width="0.8"/>
<line x1="223.80" y1="37.0" x2="223.80" y2="39.0" stroke="#666" stroke-width="0.8"/>
<line x1="223.80" y1="184.2" x2="223.80" y2="182.2" stroke="#666" stroke-width="0.8"/>
<line x1="232.60" y1="37.0" x2="232.60" y2="39.0" stroke="#666" stroke-width="0.8"/>
<line x1="232.60" y1="184.2" x2="232.60" y2="182.2" stroke="#666" stroke-width="0.8"/>
<line x1="241.40" y1="37.0" x2="241.40" y2="39.0" stroke="#666" stroke-width="0.8"/>
<line x1="241.40" y1="184.2" x2="241.40" y2="182.2" stroke="#666" stroke-width="0.8"/>
<line x1="250.20" y1="37.0" x2="250.20" y2="39.0" stroke="#666" stroke-width="0.8"/>
<line x1="250.20" y1="184.2" x2="250.20" y2="182.2" stroke="#666" stroke-width="0.8"/>
<line x1="259.00" y1="37.0" x2="259.00" y2="39.0" stroke="#666" stroke-width="0.8"/>
<line x1="259.00" y1="184.2" x2="259.00" y2="182.2" stroke="#666" stroke-width="0.8"/>
<line x1="267.80" y1="37.0" x2="267.80" y2="39.0" stroke="#666" stroke-width="0.8"/>
<line x1="267.80" y1="184.2" x2="267.80" y2="182.2" stroke="#666" stroke-width="0.8"/>
<line x1="276.60" y1="37.0" x2="276.60" y2="39.0" stroke="#666" stroke-width="0.8"/>
<line x1="276.60" y1="184.2" x2="276.60" y2="182.2" stroke="#666" stroke-width="0.8"/>
<line x1="285.40" y1="37.0" x2="285.40" y2="39.0" stroke="#666" stroke-width="0.8"/>
<line x1="285.40" y1="184.2" x2="285.40" y2="182.2" stroke="#666" stroke-width="0.8"/>
<line x1="294.20" y1="37.0" x2="294.20" y2="39.0" stroke="#666" stroke-width="0.8"/>
<line x1="294.20" y1="184.2" x2="294.20" y2="182.2" stroke="#666" stroke-width="0.8"/>
<line x1="303.00" y1="37.0" x2="303.00" y2="39.0" stroke="#666" stroke-width="0.8"/>
<line x1="303.00" y1="184.2" x2="303.00" y2="182.2" stroke="#666" stroke-width="0.8"/>
<line x1="311.80" y1="37.0" x2="311.80" y2="39.0" stroke="#666" stroke-width="0.8"/>
<line x1="311.80" y1="184.2" x2="311.80" y2="182.2" stroke="#666" stroke-width="0.8"/>
<line x1="320.60" y1="37.0" x2="320.60" y2="39.0" stroke="#666" stroke-width="0.8"/>
<line x1="320.60" y1="184.2" x2="320.60" y2="182.2" stroke="#666" stroke-width="0.8"/>
<line x1="329.40" y1="37.0" x2="329.40" y2="39.0" stroke="#666" stroke-width="0.8"/>
<line x1="329.40" y1="184.2" x2="329.40" y2="182.2" stroke="#666" stroke-width="0.8"/>
<line x1="338.20" y1="37.0" x2="338.20" y2="39.0" stroke="#666" stroke-width="0.8"/>
<line x1="338.20" y1="184.2" x2="338.20" y2="182.2" stroke="#666" stroke-width="0.8"/>
<line x1="347.00" y1="37.0" x2="347.00" y2="39.0" stroke="#666" stroke-width="0.8"/>
<line x1="347.00" y1="184.2" x2="347.00" y2="182.2" stroke="#666" stroke-width="0.8"/>
<line x1="355.80" y1="37.0" x2="355.80" y2="39.0" stroke="#666" stroke-width="0.8"/>
<line x1="355.80" y1="184.2" x2="355.80" y2="182.2" stroke="#666" stroke-width="0.8"/>
<line x1="364.60" y1="37.0" x2="364.60" y2="39.0" stroke="#666" stroke-width="0.8"/>
<line x1="364.60" y1="184.2" x2="364.60" y2="182.2" stroke="#666" stroke-width="0.8"/>
<line x1="373.40" y1="37.0" x2="373.40" y2="39.0" stroke="#666" stroke-width="0.8"/>
<line x1="373.40" y1="184.2" x2="373.40" y2="182.2" stroke="#666" stroke-width="0.8"/>
<line x1="382.20" y1="37.0" x2="382.20" y2="39.0" stroke="#666" stroke-width="0.8"/>
<line x1="382.20" y1="184.2" x2="382.20" y2="182.2" stroke="#666" stroke-width="0.8"/>
<line x1="391.00" y1="37.0" x2="391.00" y2="39.0" stroke="#666" stroke-width="0.8"/>
<line x1="391.00" y1="184.2" x2="391.00" y2="182.2" stroke="#666" stroke-width="0.8"/>
<line x1="399.80" y1="37.0" x2="399.80" y2="39.0" stroke="#666" stroke-width="0.8"/>
<line x1="399.80" y1="184.2" x2="399.80" y2="182.2" stroke="#666" stroke-width="0.8"/>
<line x1="408.60" y1="37.0" x2="408.60" y2="39.0" stroke="#666" stroke-width="0.8"/>
<line x1="408.60" y1="184.2" x2="408.60" y2="182.2" stroke="#666" stroke-width="0.8"/>
<line x1="417.40" y1="37.0" x2="417.40" y2="39.0" stroke="#666" stroke-width="0.8"/>
<line x1="417.40" y1="184.2" x2="417.40" y2="182.2" stroke="#666" stroke-width="0.8"/>
<line x1="426.20" y1="37.0" x2="426.20" y2="39.0" stroke="#666" stroke-width="0.8"/>
<line x1="426.20" y1="184.2" x2="426.20" y2="182.2" stroke="#666" stroke-width="0.8"/>
<line x1="435.00" y1="37.0" x2="435.00" y2="39.0" stroke="#666" stroke-width="0.8"/>
<line x1="435.00" y1="184.2" x2="435.00" y2="182.2" stroke="#666" stroke-width="0.8"/>
<line x1="443.80" y1="37.0" x2="443.80" y2="39.0" stroke="#666" stroke-width="0.8"/>
<line x1="443.80" y1="184.2" x2="443.80" y2="182.2" stroke="#666" stroke-width="0.8"/>
<line x1="452.60" y1="37.0" x2="452.60" y2="39.0" stroke="#666" stroke-width="0.8"/>
<line x1="452.60" y1="184.2" x2="452.60" y2="182.2" stroke="#666" stroke-width="0.8"/>
<line x1="461.40" y1="37.0" x2="461.40" y2="39.0" stroke="#666" stroke-width="0.8"/>
<line x1="461.40" y1="184.2" x2="461.40" y2="182.2" stroke="#666" stroke-width="0.8"/>
<line x1="470.20" y1="37.0" x2="470.20" y2="39.0" stroke="#666" stroke-width="0.8"/>
<line x1="470.20" y1="184.2" x2="470.20" y2="182.2" stroke="#666" stroke-width="0.8"/>
<line x1="479.00" y1="37.0" x2="479.00" y2="39.0" stroke="#666" stroke-width="0.8"/>
<line x1="479.00" y1="184.2" x2="479.00" y2="182.2" stroke="#666" stroke-width="0.8"/>
<line x1="487.80" y1="37.0" x2="487.80" y2="39.0" stroke="#666" stroke-width="0.8"/>
<line x1="487.80" y1="184.2" x2="487.80" y2="182.2" stroke="#666" stroke-width="0.8"/>
<line x1="496.60" y1="37.0" x2="496.60" y2="39.0" stroke="#666" stroke-width="0.8"/>
<line x1="496.60" y1="184.2" x2="496.60" y2="182.2" stroke="#666" stroke-width="0.8"/>
<line x1="505.40" y1="37.0" x2="505.40" y2="39.0" stroke="#666" stroke-width="0.8"/>
<line x1="505.40" y1="184.2" x2="505.40" y2="182.2" stroke="#666" stroke-width="0.8"/>
<line x1="514.20" y1="37.0" x2="514.20" y2="39.0" stroke="#666" stroke-width="0.8"/>
<line x1="514.20" y1="184.2" x2="514.20" y2="182.2" stroke="#666" stroke-width="0.8"/>
<line x1="30.3" y1="184.20" x2="32.3" y2="184.20" stroke="#666" stroke-width="0.8"/>
<line x1="517.8" y1="184.20" x2="515.8" y2="184.20" stroke="#666" stroke-width="0.8"/>
<text x="28.70" y="187.00" font-family="Liberation Sans" font-size="8.2" fill="#444" text-anchor="end">−2</text>
<line x1="30.3" y1="163.17" x2="32.3" y2="163.17" stroke="#666" stroke-width="0.8"/>
<line x1="517.8" y1="163.17" x2="515.8" y2="163.17" stroke="#666" stroke-width="0.8"/>
<text x="28.70" y="165.97" font-family="Liberation Sans" font-size="8.2" fill="#444" text-anchor="end">−1</text>
<line x1="30.3" y1="142.14" x2="32.3" y2="142.14" stroke="#666" stroke-width="0.8"/>
<line x1="517.8" y1="142.14" x2="515.8" y2="142.14" stroke="#666" stroke-width="0.8"/>
<text x="28.70" y="144.94" font-family="Liberation Sans" font-size="8.2" fill="#444" text-anchor="end">0</text>
<line x1="30.3" y1="121.11" x2="32.3" y2="121.11" stroke="#666" stroke-width="0.8"/>
<line x1="517.8" y1="121.11" x2="515.8" y2="121.11" stroke="#666" stroke-width="0.8"/>
<text x="28.70" y="123.91" font-family="Liberation Sans" font-size="8.2" fill="#444" text-anchor="end">1</text>
<line x1="30.3" y1="100.09" x2="32.3" y2="100.09" stroke="#666" stroke-width="0.8"/>
<line x1="517.8" y1="100.09" x2="515.8" y2="100.09" stroke="#666" stroke-width="0.8"/>
<text x="28.70" y="102.89" font-family="Liberation Sans" font-size="8.2" fill="#444" text-anchor="end">2</text>
<line x1="30.3" y1="79.06" x2="32.3" y2="79.06" stroke="#666" stroke-width="0.8"/>
<line x1="517.8" y1="79.06" x2="515.8" y2="79.06" stroke="#666" stroke-width="0.8"/>
<text x="28.70" y="81.86" font-family="Liberation Sans" font-size="8.2" fill="#444" text-anchor="end">3</text>
<line x1="30.3" y1="58.03" x2="32.3" y2="58.03" stroke="#666" stroke-width="0.8"/>
<line x1="517.8" y1="58.03" x2="515.8" y2="58.03" stroke="#666" stroke-width="0.8"/>
<text x="28.70" y="60.83" font-family="Liberation Sans" font-size="8.2" fill="#444" text-anchor="end">4</text>
<line x1="30.3" y1="37.00" x2="32.3" y2="37.00" stroke="#666" stroke-width="0.8"/>
<line x1="517.8" y1="37.00" x2="515.8" y2="37.00" stroke="#666" stroke-width="0.8"/>
<text x="28.70" y="39.80" font-family="Liberation Sans" font-size="8.2" fill="#444" text-anchor="end">5</text>
<text transform="translate(14.3,118.7) rotate(-90)" font-family="Liberation Sans" font-weight="bold" font-size="16" fill="#000" textLength="31.4" lengthAdjust="spacingAndGlyphs">Fold</text>
<text x="49.5" y="58.3" font-family="Liberation Sans" font-size="12.4" fill="#35436f" stroke="#35436f" stroke-width="0.25" textLength="30.8" lengthAdjust="spacingAndGlyphs">Day 1</text>
<text x="49.5" y="75.0" font-family="Liberation Sans" font-size="12.4" fill="#74b068" stroke="#74b068" stroke-width="0.2" textLength="30.8" lengthAdjust="spacingAndGlyphs">Day 2</text>
<text transform="translate(29.70,190.00) rotate(-48) scale(0.78,1)" font-family="Liberation Sans" font-size="5.6" fill="#404040" stroke="#404040" stroke-width="0.12" text-anchor="end">CD40L-&gt;pNFkB_D1</text>
<text transform="translate(38.50,190.00) rotate(-48) scale(0.78,1)" font-family="Liberation Sans" font-size="5.6" fill="#404040" stroke="#404040" stroke-width="0.12" text-anchor="end">CD40L-&gt;pNFkB_D2</text>
<text transform="translate(47.30,190.00) rotate(-48) scale(0.78,1)" font-family="Liberation Sans" font-size="5.6" fill="#404040" stroke="#404040" stroke-width="0.12" text-anchor="end">IFNg-&gt;pStat5_D1</text>
<text transform="translate(56.10,190.00) rotate(-48) scale(0.78,1)" font-family="Liberation Sans" font-size="5.6" fill="#404040" stroke="#404040" stroke-width="0.12" text-anchor="end">IFNg-&gt;pStat5_D2</text>
<text transform="translate(64.90,190.00) rotate(-48) scale(0.78,1)" font-family="Liberation Sans" font-size="5.6" fill="#404040" stroke="#404040" stroke-width="0.12" text-anchor="end">R848-&gt;pNFkB_D1</text>
<text transform="translate(73.70,190.00) rotate(-48) scale(0.78,1)" font-family="Liberation Sans" font-size="5.6" fill="#404040" stroke="#404040" stroke-width="0.12" text-anchor="end">R848-&gt;pNFkB_D2</text>
<text transform="translate(82.50,190.00) rotate(-48) scale(0.78,1)" font-family="Liberation Sans" font-size="5.6" fill="#404040" stroke="#404040" stroke-width="0.12" text-anchor="end">IFNg-&gt;pStat3_D1</text>
<text transform="translate(91.30,190.00) rotate(-48) scale(0.78,1)" font-family="Liberation Sans" font-size="5.6" fill="#404040" stroke="#404040" stroke-width="0.12" text-anchor="end">IFNg-&gt;pStat3_D2</text>
<text transform="translate(100.10,190.00) rotate(-48) scale(0.78,1)" font-family="Liberation Sans" font-size="5.6" fill="#404040" stroke="#404040" stroke-width="0.12" text-anchor="end">IFNg-&gt;pStat6_D1</text>
<text transform="translate(108.90,190.00) rotate(-48) scale(0.78,1)" font-family="Liberation Sans" font-size="5.6" fill="#404040" stroke="#404040" stroke-width="0.12" text-anchor="end">IFNg-&gt;pStat6_D2</text>
<text transform="translate(117.70,190.00) rotate(-48) scale(0.78,1)" font-family="Liberation Sans" font-size="5.6" fill="#404040" stroke="#404040" stroke-width="0.12" text-anchor="end">CD40L-&gt;pErk_D1</text>
<text transform="translate(126.50,190.00) rotate(-48) scale(0.78,1)" font-family="Liberation Sans" font-size="5.6" fill="#404040" stroke="#404040" stroke-width="0.12" text-anchor="end">CD40L-&gt;pErk_D2</text>
<text transform="translate(135.30,190.00) rotate(-48) scale(0.78,1)" font-family="Liberation Sans" font-size="5.6" fill="#404040" stroke="#404040" stroke-width="0.12" text-anchor="end">IL2-&gt;pStat5_D1</text>
<text transform="translate(144.10,190.00) rotate(-48) scale(0.78,1)" font-family="Liberation Sans" font-size="5.6" fill="#404040" stroke="#404040" stroke-width="0.12" text-anchor="end">IL2-&gt;pStat5_D2</text>
<text transform="translate(152.90,190.00) rotate(-48) scale(0.78,1)" font-family="Liberation Sans" font-size="5.6" fill="#404040" stroke="#404040" stroke-width="0.12" text-anchor="end">IL10-&gt;pStat3_D1</text>
<text transform="translate(161.70,190.00) rotate(-48) scale(0.78,1)" font-family="Liberation Sans" font-size="5.6" fill="#404040" stroke="#404040" stroke-width="0.12" text-anchor="end">IL10-&gt;pStat3_D2</text>
<text transform="translate(170.50,190.00) rotate(-48) scale(0.78,1)" font-family="Liberation Sans" font-size="5.6" fill="#404040" stroke="#404040" stroke-width="0.12" text-anchor="end">GM+LPS-&gt;pNFkB_D1</text>
<text transform="translate(179.30,190.00) rotate(-48) scale(0.78,1)" font-family="Liberation Sans" font-size="5.6" fill="#404040" stroke="#404040" stroke-width="0.12" text-anchor="end">GM+LPS-&gt;pNFkB_D2</text>
<text transform="translate(188.10,190.00) rotate(-48) scale(0.78,1)" font-family="Liberation Sans" font-size="5.6" fill="#404040" stroke="#404040" stroke-width="0.12" text-anchor="end">IL27-&gt;pStat3_D1</text>
<text transform="translate(196.90,190.00) rotate(-48) scale(0.78,1)" font-family="Liberation Sans" font-size="5.6" fill="#404040" stroke="#404040" stroke-width="0.12" text-anchor="end">IL27-&gt;pStat3_D2</text>
<text transform="translate(205.70,190.00) rotate(-48) scale(0.78,1)" font-family="Liberation Sans" font-size="5.6" fill="#404040" stroke="#404040" stroke-width="0.12" text-anchor="end">IFNa-&gt;pStat3_D1</text>
<text transform="translate(214.50,190.00) rotate(-48) scale(0.78,1)" font-family="Liberation Sans" font-size="5.6" fill="#404040" stroke="#404040" stroke-width="0.12" text-anchor="end">IFNa-&gt;pStat3_D2</text>
<text transform="translate(223.30,190.00) rotate(-48) scale(0.78,1)" font-family="Liberation Sans" font-size="5.6" fill="#404040" stroke="#404040" stroke-width="0.12" text-anchor="end">GM+LPS-&gt;pErk_D1</text>
<text transform="translate(232.10,190.00) rotate(-48) scale(0.78,1)" font-family="Liberation Sans" font-size="5.6" fill="#404040" stroke="#404040" stroke-width="0.12" text-anchor="end">GM+LPS-&gt;pErk_D2</text>
<text transform="translate(240.90,190.00) rotate(-48) scale(0.78,1)" font-family="Liberation Sans" font-size="5.6" fill="#404040" stroke="#404040" stroke-width="0.12" text-anchor="end">R848-&gt;pErk_D1</text>
<text transform="translate(249.70,190.00) rotate(-48) scale(0.78,1)" font-family="Liberation Sans" font-size="5.6" fill="#404040" stroke="#404040" stroke-width="0.12" text-anchor="end">R848-&gt;pErk_D2</text>
<text transform="translate(258.50,190.00) rotate(-48) scale(0.78,1)" font-family="Liberation Sans" font-size="5.6" fill="#404040" stroke="#404040" stroke-width="0.12" text-anchor="end">IL27-&gt;pStat5_D1</text>
<text transform="translate(267.30,190.00) rotate(-48) scale(0.78,1)" font-family="Liberation Sans" font-size="5.6" fill="#404040" stroke="#404040" stroke-width="0.12" text-anchor="end">IL27-&gt;pStat5_D2</text>
<text transform="translate(276.10,190.00) rotate(-48) scale(0.78,1)" font-family="Liberation Sans" font-size="5.6" fill="#404040" stroke="#404040" stroke-width="0.12" text-anchor="end">IL6-&gt;pStat5_D1</text>
<text transform="translate(284.90,190.00) rotate(-48) scale(0.78,1)" font-family="Liberation Sans" font-size="5.6" fill="#404040" stroke="#404040" stroke-width="0.12" text-anchor="end">IL6-&gt;pStat5_D2</text>
<text transform="translate(293.70,190.00) rotate(-48) scale(0.78,1)" font-family="Liberation Sans" font-size="5.6" fill="#404040" stroke="#404040" stroke-width="0.12" text-anchor="end">IFNa-&gt;pStat1_D1</text>
<text transform="translate(302.50,190.00) rotate(-48) scale(0.78,1)" font-family="Liberation Sans" font-size="5.6" fill="#404040" stroke="#404040" stroke-width="0.12" text-anchor="end">IFNa-&gt;pStat1_D2</text>
<text transform="translate(311.30,190.00) rotate(-48) scale(0.78,1)" font-family="Liberation Sans" font-size="5.6" fill="#404040" stroke="#404040" stroke-width="0.12" text-anchor="end">IFNa-&gt;pStat6_D1</text>
<text transform="translate(320.10,190.00) rotate(-48) scale(0.78,1)" font-family="Liberation Sans" font-size="5.6" fill="#404040" stroke="#404040" stroke-width="0.12" text-anchor="end">IFNa-&gt;pStat6_D2</text>
<text transform="translate(328.90,190.00) rotate(-48) scale(0.78,1)" font-family="Liberation Sans" font-size="5.6" fill="#404040" stroke="#404040" stroke-width="0.12" text-anchor="end">IL10-&gt;pStat1_D1</text>
<text transform="translate(337.70,190.00) rotate(-48) scale(0.78,1)" font-family="Liberation Sans" font-size="5.6" fill="#404040" stroke="#404040" stroke-width="0.12" text-anchor="end">IL10-&gt;pStat1_D2</text>
<text transform="translate(346.50,190.00) rotate(-48) scale(0.78,1)" font-family="Liberation Sans" font-size="5.6" fill="#404040" stroke="#404040" stroke-width="0.12" text-anchor="end">IL10-&gt;pStat5_D1</text>
<text transform="translate(355.30,190.00) rotate(-48) scale(0.78,1)" font-family="Liberation Sans" font-size="5.6" fill="#404040" stroke="#404040" stroke-width="0.12" text-anchor="end">IL10-&gt;pStat5_D2</text>
<text transform="translate(364.10,190.00) rotate(-48) scale(0.78,1)" font-family="Liberation Sans" font-size="5.6" fill="#404040" stroke="#404040" stroke-width="0.12" text-anchor="end">PMA-&gt;pErk_D1</text>
<text transform="translate(372.90,190.00) rotate(-48) scale(0.78,1)" font-family="Liberation Sans" font-size="5.6" fill="#404040" stroke="#404040" stroke-width="0.12" text-anchor="end">PMA-&gt;pErk_D2</text>
<text transform="translate(381.70,190.00) rotate(-48) scale(0.78,1)" font-family="Liberation Sans" font-size="5.6" fill="#404040" stroke="#404040" stroke-width="0.12" text-anchor="end">IFNg-&gt;pStat1_D1</text>
<text transform="translate(390.50,190.00) rotate(-48) scale(0.78,1)" font-family="Liberation Sans" font-size="5.6" fill="#404040" stroke="#404040" stroke-width="0.12" text-anchor="end">IFNg-&gt;pStat1_D2</text>
<text transform="translate(399.30,190.00) rotate(-48) scale(0.78,1)" font-family="Liberation Sans" font-size="5.6" fill="#404040" stroke="#404040" stroke-width="0.12" text-anchor="end">IFNa-&gt;pStat5_D1</text>
<text transform="translate(408.10,190.00) rotate(-48) scale(0.78,1)" font-family="Liberation Sans" font-size="5.6" fill="#404040" stroke="#404040" stroke-width="0.12" text-anchor="end">IFNa-&gt;pStat5_D2</text>
<text transform="translate(416.90,190.00) rotate(-48) scale(0.78,1)" font-family="Liberation Sans" font-size="5.6" fill="#404040" stroke="#404040" stroke-width="0.12" text-anchor="end">IL2-&gt;pStat1_D1</text>
<text transform="translate(425.70,190.00) rotate(-48) scale(0.78,1)" font-family="Liberation Sans" font-size="5.6" fill="#404040" stroke="#404040" stroke-width="0.12" text-anchor="end">IL2-&gt;pStat1_D2</text>
<text transform="translate(434.50,190.00) rotate(-48) scale(0.78,1)" font-family="Liberation Sans" font-size="5.6" fill="#404040" stroke="#404040" stroke-width="0.12" text-anchor="end">IL6-&gt;pStat1_D1</text>
<text transform="translate(443.30,190.00) rotate(-48) scale(0.78,1)" font-family="Liberation Sans" font-size="5.6" fill="#404040" stroke="#404040" stroke-width="0.12" text-anchor="end">IL6-&gt;pStat1_D2</text>
<text transform="translate(452.10,190.00) rotate(-48) scale(0.78,1)" font-family="Liberation Sans" font-size="5.6" fill="#404040" stroke="#404040" stroke-width="0.12" text-anchor="end">IL6-&gt;pStat3_D1</text>
<text transform="translate(460.90,190.00) rotate(-48) scale(0.78,1)" font-family="Liberation Sans" font-size="5.6" fill="#404040" stroke="#404040" stroke-width="0.12" text-anchor="end">IL6-&gt;pStat3_D2</text>
<text transform="translate(469.70,190.00) rotate(-48) scale(0.78,1)" font-family="Liberation Sans" font-size="5.6" fill="#404040" stroke="#404040" stroke-width="0.12" text-anchor="end">PMA-&gt;pS6_D1</text>
<text transform="translate(478.50,190.00) rotate(-48) scale(0.78,1)" font-family="Liberation Sans" font-size="5.6" fill="#404040" stroke="#404040" stroke-width="0.12" text-anchor="end">PMA-&gt;pS6_D2</text>
<text transform="translate(487.30,190.00) rotate(-48) scale(0.78,1)" font-family="Liberation Sans" font-size="5.6" fill="#404040" stroke="#404040" stroke-width="0.12" text-anchor="end">IL6-&gt;pStat3_D1</text>
<text transform="translate(496.10,190.00) rotate(-48) scale(0.78,1)" font-family="Liberation Sans" font-size="5.6" fill="#404040" stroke="#404040" stroke-width="0.12" text-anchor="end">IL6-&gt;pStat3_D2</text>
<text transform="translate(504.90,190.00) rotate(-48) scale(0.78,1)" font-family="Liberation Sans" font-size="5.6" fill="#404040" stroke="#404040" stroke-width="0.12" text-anchor="end">IL27-&gt;pStat1_D1</text>
<text transform="translate(513.70,190.00) rotate(-48) scale(0.78,1)" font-family="Liberation Sans" font-size="5.6" fill="#404040" stroke="#404040" stroke-width="0.12" text-anchor="end">IL27-&gt;pStat1_D2</text>
<text transform="translate(-1.0,267.7) scale(0.86,1)" font-family="Liberation Sans" font-weight="bold" font-size="34.8" fill="#000">B</text>
<text x="228.8" y="257.4" font-family="Liberation Sans" font-weight="bold" font-size="15" fill="#111" text-anchor="middle" textLength="35.7" lengthAdjust="spacingAndGlyphs">Day1</text>
<text x="334.9" y="257.4" font-family="Liberation Sans" font-weight="bold" font-size="15" fill="#111" text-anchor="middle" textLength="36" lengthAdjust="spacingAndGlyphs">Day2</text>
<line x1="140" y1="263.5" x2="392.4" y2="263.5" stroke="#d4d4d4" stroke-width="1"/>
<line x1="140" y1="323.4" x2="392.4" y2="323.4" stroke="#d4d4d4" stroke-width="1"/>
<line x1="140" y1="383.3" x2="392.4" y2="383.3" stroke="#d4d4d4" stroke-width="1"/>
<line x1="140" y1="443.1" x2="392.4" y2="443.1" stroke="#d4d4d4" stroke-width="1"/>
<line x1="140" y1="503.0" x2="392.4" y2="503.0" stroke="#d4d4d4" stroke-width="1"/>
<line x1="174.6" y1="263.5" x2="174.6" y2="535" stroke="#d4d4d4" stroke-width="1"/>
<line x1="283.2" y1="263.5" x2="283.2" y2="535" stroke="#d4d4d4" stroke-width="1"/>
<line x1="392.4" y1="263.5" x2="392.4" y2="535" stroke="#d4d4d4" stroke-width="1"/>
<text transform="translate(151.2,293.75) rotate(-90)" font-family="Liberation Sans" font-size="10.4" fill="#1e1e1e" stroke="#1e1e1e" stroke-width="0.2" text-anchor="middle">IFNa-pStat5</text>
<text transform="translate(151.2,353.65) rotate(-90)" font-family="Liberation Sans" font-size="10.4" fill="#1e1e1e" stroke="#1e1e1e" stroke-width="0.2" text-anchor="middle">IL27-pStat1</text>
<text transform="translate(149.9,413.50) rotate(-90)" font-family="Liberation Sans" font-size="10.4" fill="#1e1e1e" stroke="#1e1e1e" stroke-width="0.2" text-anchor="middle">IL27-pStat5</text>
<text transform="translate(149.9,473.35) rotate(-90)" font-family="Liberation Sans" font-size="10.4" fill="#1e1e1e" stroke="#1e1e1e" stroke-width="0.2" text-anchor="middle">IL6-pStat1</text>
<text x="168.5" y="273.00" font-family="Liberation Sans" font-size="10.5" fill="#1e1e1e" stroke="#1e1e1e" stroke-width="0.25" text-anchor="end">2</text>
<line x1="171.6" y1="269.2" x2="174.6" y2="269.2" stroke="#d4d4d4" stroke-width="1"/>
<text x="168.5" y="297.60" font-family="Liberation Sans" font-size="10.5" fill="#1e1e1e" stroke="#1e1e1e" stroke-width="0.25" text-anchor="end">1</text>
<line x1="171.6" y1="293.8" x2="174.6" y2="293.8" stroke="#d4d4d4" stroke-width="1"/>
<text x="168.5" y="321.20" font-family="Liberation Sans" font-size="10.5" fill="#1e1e1e" stroke="#1e1e1e" stroke-width="0.25" text-anchor="end">0</text>
<line x1="171.6" y1="318.4" x2="174.6" y2="318.4" stroke="#d4d4d4" stroke-width="1"/>
<text x="168.5" y="334.30" font-family="Liberation Sans" font-size="10.5" fill="#1e1e1e" stroke="#1e1e1e" stroke-width="0.25" text-anchor="end">3</text>
<line x1="171.6" y1="330.5" x2="174.6" y2="330.5" stroke="#d4d4d4" stroke-width="1"/>
<text x="168.5" y="351.50" font-family="Liberation Sans" font-size="10.5" fill="#1e1e1e" stroke="#1e1e1e" stroke-width="0.25" text-anchor="end">2</text>
<line x1="171.6" y1="347.7" x2="174.6" y2="347.7" stroke="#d4d4d4" stroke-width="1"/>
<text x="168.5" y="368.90" font-family="Liberation Sans" font-size="10.5" fill="#1e1e1e" stroke="#1e1e1e" stroke-width="0.25" text-anchor="end">1</text>
<line x1="171.6" y1="365.1" x2="174.6" y2="365.1" stroke="#d4d4d4" stroke-width="1"/>
<text x="168.5" y="380.70" font-family="Liberation Sans" font-size="10.5" fill="#1e1e1e" stroke="#1e1e1e" stroke-width="0.25" text-anchor="end">0</text>
<text x="168.5" y="398.60" font-family="Liberation Sans" font-size="10.5" fill="#1e1e1e" stroke="#1e1e1e" stroke-width="0.25" text-anchor="end">0.6</text>
<line x1="171.6" y1="394.8" x2="174.6" y2="394.8" stroke="#d4d4d4" stroke-width="1"/>
<text x="168.5" y="412.60" font-family="Liberation Sans" font-size="10.5" fill="#1e1e1e" stroke="#1e1e1e" stroke-width="0.25" text-anchor="end">0.4</text>
<line x1="171.6" y1="408.8" x2="174.6" y2="408.8" stroke="#d4d4d4" stroke-width="1"/>
<text x="168.5" y="425.90" font-family="Liberation Sans" font-size="10.5" fill="#1e1e1e" stroke="#1e1e1e" stroke-width="0.25" text-anchor="end">0.2</text>
<line x1="171.6" y1="422.1" x2="174.6" y2="422.1" stroke="#d4d4d4" stroke-width="1"/>
<text x="168.5" y="439.40" font-family="Liberation Sans" font-size="10.5" fill="#1e1e1e" stroke="#1e1e1e" stroke-width="0.25" text-anchor="end">0.0</text>
<line x1="171.6" y1="435.8" x2="174.6" y2="435.8" stroke="#d4d4d4" stroke-width="1"/>
<text x="168.5" y="452.30" font-family="Liberation Sans" font-size="10.5" fill="#1e1e1e" stroke="#1e1e1e" stroke-width="0.25" text-anchor="end">1.0</text>
<line x1="171.6" y1="448.2" x2="174.6" y2="448.2" stroke="#d4d4d4" stroke-width="1"/>
<text x="168.5" y="478.40" font-family="Liberation Sans" font-size="10.5" fill="#1e1e1e" stroke="#1e1e1e" stroke-width="0.25" text-anchor="end">0.5</text>
<line x1="171.6" y1="474.8" x2="174.6" y2="474.8" stroke="#d4d4d4" stroke-width="1"/>
<text x="168.5" y="500.00" font-family="Liberation Sans" font-size="10.5" fill="#1e1e1e" stroke="#1e1e1e" stroke-width="0.25" text-anchor="end">0.0</text>
<line x1="171.6" y1="501.0" x2="174.6" y2="501.0" stroke="#d4d4d4" stroke-width="1"/>
<line x1="174.6" y1="436.2" x2="392.4" y2="436.2" stroke="#e6e6e6" stroke-width="1"/>
<text x="192.30" y="516.6" font-family="Liberation Sans" font-size="10" fill="#1e1e1e" stroke="#1e1e1e" stroke-width="0.25" text-anchor="middle">60</text>
<line x1="192.30" y1="503" x2="192.30" y2="505.5" stroke="#d4d4d4" stroke-width="1"/>
<text x="228.60" y="516.6" font-family="Liberation Sans" font-size="10" fill="#1e1e1e" stroke="#1e1e1e" stroke-width="0.25" text-anchor="middle">70</text>
<line x1="228.60" y1="503" x2="228.60" y2="505.5" stroke="#d4d4d4" stroke-width="1"/>
<text x="264.90" y="516.6" font-family="Liberation Sans" font-size="10" fill="#1e1e1e" stroke="#1e1e1e" stroke-width="0.25" text-anchor="middle">80</text>
<line x1="264.90" y1="503" x2="264.90" y2="505.5" stroke="#d4d4d4" stroke-width="1"/>
<text x="228.80" y="531.5" font-family="Liberation Sans" font-size="11" fill="#1e1e1e" stroke="#1e1e1e" stroke-width="0.2" text-anchor="middle">Age</text>
<text x="300.90" y="516.6" font-family="Liberation Sans" font-size="10" fill="#1e1e1e" stroke="#1e1e1e" stroke-width="0.25" text-anchor="middle">60</text>
<line x1="300.90" y1="503" x2="300.90" y2="505.5" stroke="#d4d4d4" stroke-width="1"/>
<text x="337.20" y="516.6" font-family="Liberation Sans" font-size="10" fill="#1e1e1e" stroke="#1e1e1e" stroke-width="0.25" text-anchor="middle">70</text>
<line x1="337.20" y1="503" x2="337.20" y2="505.5" stroke="#d4d4d4" stroke-width="1"/>
<text x="373.50" y="516.6" font-family="Liberation Sans" font-size="10" fill="#1e1e1e" stroke="#1e1e1e" stroke-width="0.25" text-anchor="middle">80</text>
<line x1="373.50" y1="503" x2="373.50" y2="505.5" stroke="#d4d4d4" stroke-width="1"/>
<text x="337.40" y="531.5" font-family="Liberation Sans" font-size="11" fill="#1e1e1e" stroke="#1e1e1e" stroke-width="0.2" text-anchor="middle">Age</text>
<circle cx="199.8" cy="267.7" r="2.6" fill="#4f74b4" stroke="#3a5a98" stroke-width="0.8"/>
<circle cx="196.2" cy="289.5" r="2.6" fill="#4f74b4" stroke="#3a5a98" stroke-width="0.8"/>
<circle cx="192.4" cy="292.7" r="2.6" fill="#4f74b4" stroke="#3a5a98" stroke-width="0.8"/>
<circle cx="203.6" cy="290.1" r="2.6" fill="#4f74b4" stroke="#3a5a98" stroke-width="0.8"/>
<circle cx="203.6" cy="295.4" r="2.6" fill="#4f74b4" stroke="#3a5a98" stroke-width="0.8"/>
<circle cx="206.8" cy="309" r="2.6" fill="#4f74b4" stroke="#3a5a98" stroke-width="0.8"/>
<circle cx="210.6" cy="303.9" r="2.6" fill="#4f74b4" stroke="#3a5a98" stroke-width="0.8"/>
<circle cx="214.6" cy="297.5" r="2.6" fill="#4f74b4" stroke="#3a5a98" stroke-width="0.8"/>
<circle cx="218" cy="297.3" r="2.6" fill="#4f74b4" stroke="#3a5a98" stroke-width="0.8"/>
<circle cx="229" cy="309" r="2.6" fill="#4f74b4" stroke="#3a5a98" stroke-width="0.8"/>
<circle cx="232.2" cy="305.4" r="2.6" fill="#4f74b4" stroke="#3a5a98" stroke-width="0.8"/>
<circle cx="236" cy="304.3" r="2.6" fill="#4f74b4" stroke="#3a5a98" stroke-width="0.8"/>
<circle cx="247" cy="301.8" r="2.6" fill="#4f74b4" stroke="#3a5a98" stroke-width="0.8"/>
<circle cx="265" cy="305.4" r="2.6" fill="#4f74b4" stroke="#3a5a98" stroke-width="0.8"/>
<circle cx="265" cy="320.2" r="2.6" fill="#4f74b4" stroke="#3a5a98" stroke-width="0.8"/>
<circle cx="319.6" cy="291.2" r="2.6" fill="#4f74b4" stroke="#3a5a98" stroke-width="0.8"/>
<circle cx="308.4" cy="297.3" r="2.6" fill="#4f74b4" stroke="#3a5a98" stroke-width="0.8"/>
<circle cx="312.6" cy="296.3" r="2.6" fill="#4f74b4" stroke="#3a5a98" stroke-width="0.8"/>
<circle cx="305.2" cy="302.2" r="2.6" fill="#4f74b4" stroke="#3a5a98" stroke-width="0.8"/>
<circle cx="312.6" cy="304.3" r="2.6" fill="#4f74b4" stroke="#3a5a98" stroke-width="0.8"/>
<circle cx="316.2" cy="304.3" r="2.6" fill="#4f74b4" stroke="#3a5a98" stroke-width="0.8"/>
<circle cx="301.6" cy="310.2" r="2.6" fill="#4f74b4" stroke="#3a5a98" stroke-width="0.8"/>
<circle cx="337.6" cy="313.8" r="2.6" fill="#4f74b4" stroke="#3a5a98" stroke-width="0.8"/>
<circle cx="341.2" cy="313.8" r="2.6" fill="#4f74b4" stroke="#3a5a98" stroke-width="0.8"/>
<circle cx="345" cy="311.1" r="2.6" fill="#4f74b4" stroke="#3a5a98" stroke-width="0.8"/>
<circle cx="356" cy="310.2" r="2.6" fill="#4f74b4" stroke="#3a5a98" stroke-width="0.8"/>
<circle cx="374" cy="315.3" r="2.6" fill="#4f74b4" stroke="#3a5a98" stroke-width="0.8"/>
<circle cx="199.8" cy="327.9" r="2.6" fill="#4f74b4" stroke="#3a5a98" stroke-width="0.8"/>
<circle cx="192.4" cy="335.8" r="2.6" fill="#4f74b4" stroke="#3a5a98" stroke-width="0.8"/>
<circle cx="196.2" cy="337.9" r="2.6" fill="#4f74b4" stroke="#3a5a98" stroke-width="0.8"/>
<circle cx="218" cy="339.3" r="2.6" fill="#4f74b4" stroke="#3a5a98" stroke-width="0.8"/>
<circle cx="203.6" cy="349.9" r="2.6" fill="#4f74b4" stroke="#3a5a98" stroke-width="0.8"/>
<circle cx="203.6" cy="353.7" r="2.6" fill="#4f74b4" stroke="#3a5a98" stroke-width="0.8"/>
<circle cx="210.6" cy="353.7" r="2.6" fill="#4f74b4" stroke="#3a5a98" stroke-width="0.8"/>
<circle cx="229" cy="355.4" r="2.6" fill="#4f74b4" stroke="#3a5a98" stroke-width="0.8"/>
<circle cx="232.2" cy="360.1" r="2.6" fill="#4f74b4" stroke="#3a5a98" stroke-width="0.8"/>
<circle cx="214.2" cy="365.4" r="2.6" fill="#4f74b4" stroke="#3a5a98" stroke-width="0.8"/>
<circle cx="206.8" cy="371.1" r="2.6" fill="#4f74b4" stroke="#3a5a98" stroke-width="0.8"/>
<circle cx="236" cy="372.3" r="2.6" fill="#4f74b4" stroke="#3a5a98" stroke-width="0.8"/>
<circle cx="247" cy="367.5" r="2.6" fill="#4f74b4" stroke="#3a5a98" stroke-width="0.8"/>
<circle cx="265" cy="357.5" r="2.6" fill="#4f74b4" stroke="#3a5a98" stroke-width="0.8"/>
<circle cx="265" cy="361.8" r="2.6" fill="#4f74b4" stroke="#3a5a98" stroke-width="0.8"/>
<circle cx="305.2" cy="345.3" r="2.6" fill="#4f74b4" stroke="#3a5a98" stroke-width="0.8"/>
<circle cx="319.6" cy="343.2" r="2.6" fill="#4f74b4" stroke="#3a5a98" stroke-width="0.8"/>
<circle cx="312.6" cy="349.5" r="2.6" fill="#4f74b4" stroke="#3a5a98" stroke-width="0.8"/>
<circle cx="308.8" cy="356.3" r="2.6" fill="#4f74b4" stroke="#3a5a98" stroke-width="0.8"/>
<circle cx="301.6" cy="361.8" r="2.6" fill="#4f74b4" stroke="#3a5a98" stroke-width="0.8"/>
<circle cx="315.8" cy="365.4" r="2.6" fill="#4f74b4" stroke="#3a5a98" stroke-width="0.8"/>
<circle cx="337.6" cy="362.6" r="2.6" fill="#4f74b4" stroke="#3a5a98" stroke-width="0.8"/>
<circle cx="341.2" cy="366.4" r="2.6" fill="#4f74b4" stroke="#3a5a98" stroke-width="0.8"/>
<circle cx="345" cy="371.1" r="2.6" fill="#4f74b4" stroke="#3a5a98" stroke-width="0.8"/>
<circle cx="356" cy="369.6" r="2.6" fill="#4f74b4" stroke="#3a5a98" stroke-width="0.8"/>
<circle cx="374" cy="370.2" r="2.6" fill="#4f74b4" stroke="#3a5a98" stroke-width="0.8"/>
<circle cx="199.8" cy="387.3" r="2.6" fill="#4f74b4" stroke="#3a5a98" stroke-width="0.8"/>
<circle cx="203.6" cy="394.3" r="2.6" fill="#4f74b4" stroke="#3a5a98" stroke-width="0.8"/>
<circle cx="192.4" cy="404.8" r="2.6" fill="#4f74b4" stroke="#3a5a98" stroke-width="0.8"/>
<circle cx="196.2" cy="403.8" r="2.6" fill="#4f74b4" stroke="#3a5a98" stroke-width="0.8"/>
<circle cx="203.6" cy="411.2" r="2.6" fill="#4f74b4" stroke="#3a5a98" stroke-width="0.8"/>
<circle cx="203.6" cy="420.1" r="2.6" fill="#4f74b4" stroke="#3a5a98" stroke-width="0.8"/>
<circle cx="210.6" cy="416.9" r="2.6" fill="#4f74b4" stroke="#3a5a98" stroke-width="0.8"/>
<circle cx="214.2" cy="420.1" r="2.6" fill="#4f74b4" stroke="#3a5a98" stroke-width="0.8"/>
<circle cx="218" cy="414.8" r="2.6" fill="#4f74b4" stroke="#3a5a98" stroke-width="0.8"/>
<circle cx="228.6" cy="417.5" r="2.6" fill="#4f74b4" stroke="#3a5a98" stroke-width="0.8"/>
<circle cx="232.2" cy="406.3" r="2.6" fill="#4f74b4" stroke="#3a5a98" stroke-width="0.8"/>
<circle cx="236" cy="425.8" r="2.6" fill="#4f74b4" stroke="#3a5a98" stroke-width="0.8"/>
<circle cx="247" cy="421.8" r="2.6" fill="#4f74b4" stroke="#3a5a98" stroke-width="0.8"/>
<circle cx="265" cy="409.1" r="2.6" fill="#4f74b4" stroke="#3a5a98" stroke-width="0.8"/>
<circle cx="265" cy="418.4" r="2.6" fill="#4f74b4" stroke="#3a5a98" stroke-width="0.8"/>
<circle cx="206.8" cy="431.3" r="2.6" fill="#4f74b4" stroke="#3a5a98" stroke-width="0.8"/>
<circle cx="319.6" cy="404.2" r="2.6" fill="#4f74b4" stroke="#3a5a98" stroke-width="0.8"/>
<circle cx="308.8" cy="409.5" r="2.6" fill="#4f74b4" stroke="#3a5a98" stroke-width="0.8"/>
<circle cx="312.6" cy="408.4" r="2.6" fill="#4f74b4" stroke="#3a5a98" stroke-width="0.8"/>
<circle cx="305.2" cy="415.4" r="2.6" fill="#4f74b4" stroke="#3a5a98" stroke-width="0.8"/>
<circle cx="312.6" cy="421.6" r="2.6" fill="#4f74b4" stroke="#3a5a98" stroke-width="0.8"/>
<circle cx="315.8" cy="424.7" r="2.6" fill="#4f74b4" stroke="#3a5a98" stroke-width="0.8"/>
<circle cx="301.6" cy="423.5" r="2.6" fill="#4f74b4" stroke="#3a5a98" stroke-width="0.8"/>
<circle cx="337.6" cy="432.3" r="2.6" fill="#4f74b4" stroke="#3a5a98" stroke-width="0.8"/>
<circle cx="341.2" cy="430.2" r="2.6" fill="#4f74b4" stroke="#3a5a98" stroke-width="0.8"/>
<circle cx="345" cy="429" r="2.6" fill="#4f74b4" stroke="#3a5a98" stroke-width="0.8"/>
<circle cx="356" cy="427.5" r="2.6" fill="#4f74b4" stroke="#3a5a98" stroke-width="0.8"/>
<circle cx="374" cy="436.6" r="2.6" fill="#4f74b4" stroke="#3a5a98" stroke-width="0.8"/>
<circle cx="199.8" cy="447.3" r="2.6" fill="#4f74b4" stroke="#3a5a98" stroke-width="0.8"/>
<circle cx="192.4" cy="464.8" r="2.6" fill="#4f74b4" stroke="#3a5a98" stroke-width="0.8"/>
<circle cx="196.2" cy="462.7" r="2.6" fill="#4f74b4" stroke="#3a5a98" stroke-width="0.8"/>
<circle cx="203.6" cy="461.5" r="2.6" fill="#4f74b4" stroke="#3a5a98" stroke-width="0.8"/>
<circle cx="203.6" cy="463.8" r="2.6" fill="#4f74b4" stroke="#3a5a98" stroke-width="0.8"/>
<circle cx="218" cy="472.3" r="2.6" fill="#4f74b4" stroke="#3a5a98" stroke-width="0.8"/>
<circle cx="210.6" cy="478" r="2.6" fill="#4f74b4" stroke="#3a5a98" stroke-width="0.8"/>
<circle cx="214.2" cy="480.1" r="2.6" fill="#4f74b4" stroke="#3a5a98" stroke-width="0.8"/>
<circle cx="203.6" cy="481.6" r="2.6" fill="#4f74b4" stroke="#3a5a98" stroke-width="0.8"/>
<circle cx="206.8" cy="490.2" r="2.6" fill="#4f74b4" stroke="#3a5a98" stroke-width="0.8"/>
<circle cx="228.6" cy="484.3" r="2.6" fill="#4f74b4" stroke="#3a5a98" stroke-width="0.8"/>
<circle cx="236" cy="485.8" r="2.6" fill="#4f74b4" stroke="#3a5a98" stroke-width="0.8"/>
<circle cx="232.2" cy="492.1" r="2.6" fill="#4f74b4" stroke="#3a5a98" stroke-width="0.8"/>
<circle cx="247" cy="480.7" r="2.6" fill="#4f74b4" stroke="#3a5a98" stroke-width="0.8"/>
<circle cx="265" cy="475.2" r="2.6" fill="#4f74b4" stroke="#3a5a98" stroke-width="0.8"/>
<circle cx="265" cy="488.5" r="2.6" fill="#4f74b4" stroke="#3a5a98" stroke-width="0.8"/>
<circle cx="312.6" cy="476.5" r="2.6" fill="#4f74b4" stroke="#3a5a98" stroke-width="0.8"/>
<circle cx="312.6" cy="481.1" r="2.6" fill="#4f74b4" stroke="#3a5a98" stroke-width="0.8"/>
<circle cx="305.2" cy="483.3" r="2.6" fill="#4f74b4" stroke="#3a5a98" stroke-width="0.8"/>
<circle cx="308.8" cy="485.8" r="2.6" fill="#4f74b4" stroke="#3a5a98" stroke-width="0.8"/>
<circle cx="301.6" cy="486.4" r="2.6" fill="#4f74b4" stroke="#3a5a98" stroke-width="0.8"/>
<circle cx="319.6" cy="485.8" r="2.6" fill="#4f74b4" stroke="#3a5a98" stroke-width="0.8"/>
<circle cx="315.8" cy="492.8" r="2.6" fill="#4f74b4" stroke="#3a5a98" stroke-width="0.8"/>
<circle cx="337.6" cy="489" r="2.6" fill="#4f74b4" stroke="#3a5a98" stroke-width="0.8"/>
<circle cx="341.2" cy="492.8" r="2.6" fill="#4f74b4" stroke="#3a5a98" stroke-width="0.8"/>
<circle cx="345" cy="496.6" r="2.6" fill="#4f74b4" stroke="#3a5a98" stroke-width="0.8"/>
<circle cx="356" cy="486" r="2.6" fill="#4f74b4" stroke="#3a5a98" stroke-width="0.8"/>
<circle cx="374" cy="493.8" r="2.6" fill="#4f74b4" stroke="#3a5a98" stroke-width="0.8"/>
<line x1="175" y1="284.6" x2="283" y2="320.0" stroke="#000" stroke-width="1.5"/>
<line x1="284" y1="296.3" x2="392" y2="320.2" stroke="#000" stroke-width="1.5"/>
<line x1="175" y1="340" x2="283" y2="373.2" stroke="#000" stroke-width="1.5"/>
<line x1="284" y1="345.7" x2="392" y2="379.1" stroke="#000" stroke-width="1.5"/>
<line x1="175" y1="405.3" x2="283" y2="423.3" stroke="#000" stroke-width="1.5"/>
<line x1="284" y1="407.8" x2="392" y2="442.3" stroke="#000" stroke-width="1.5"/>
<line x1="175" y1="462.1" x2="283" y2="493.8" stroke="#000" stroke-width="1.5"/>
<line x1="284" y1="480.7" x2="392" y2="497.4" stroke="#000" stroke-width="1.5"/>
</svg>
</body></html>
